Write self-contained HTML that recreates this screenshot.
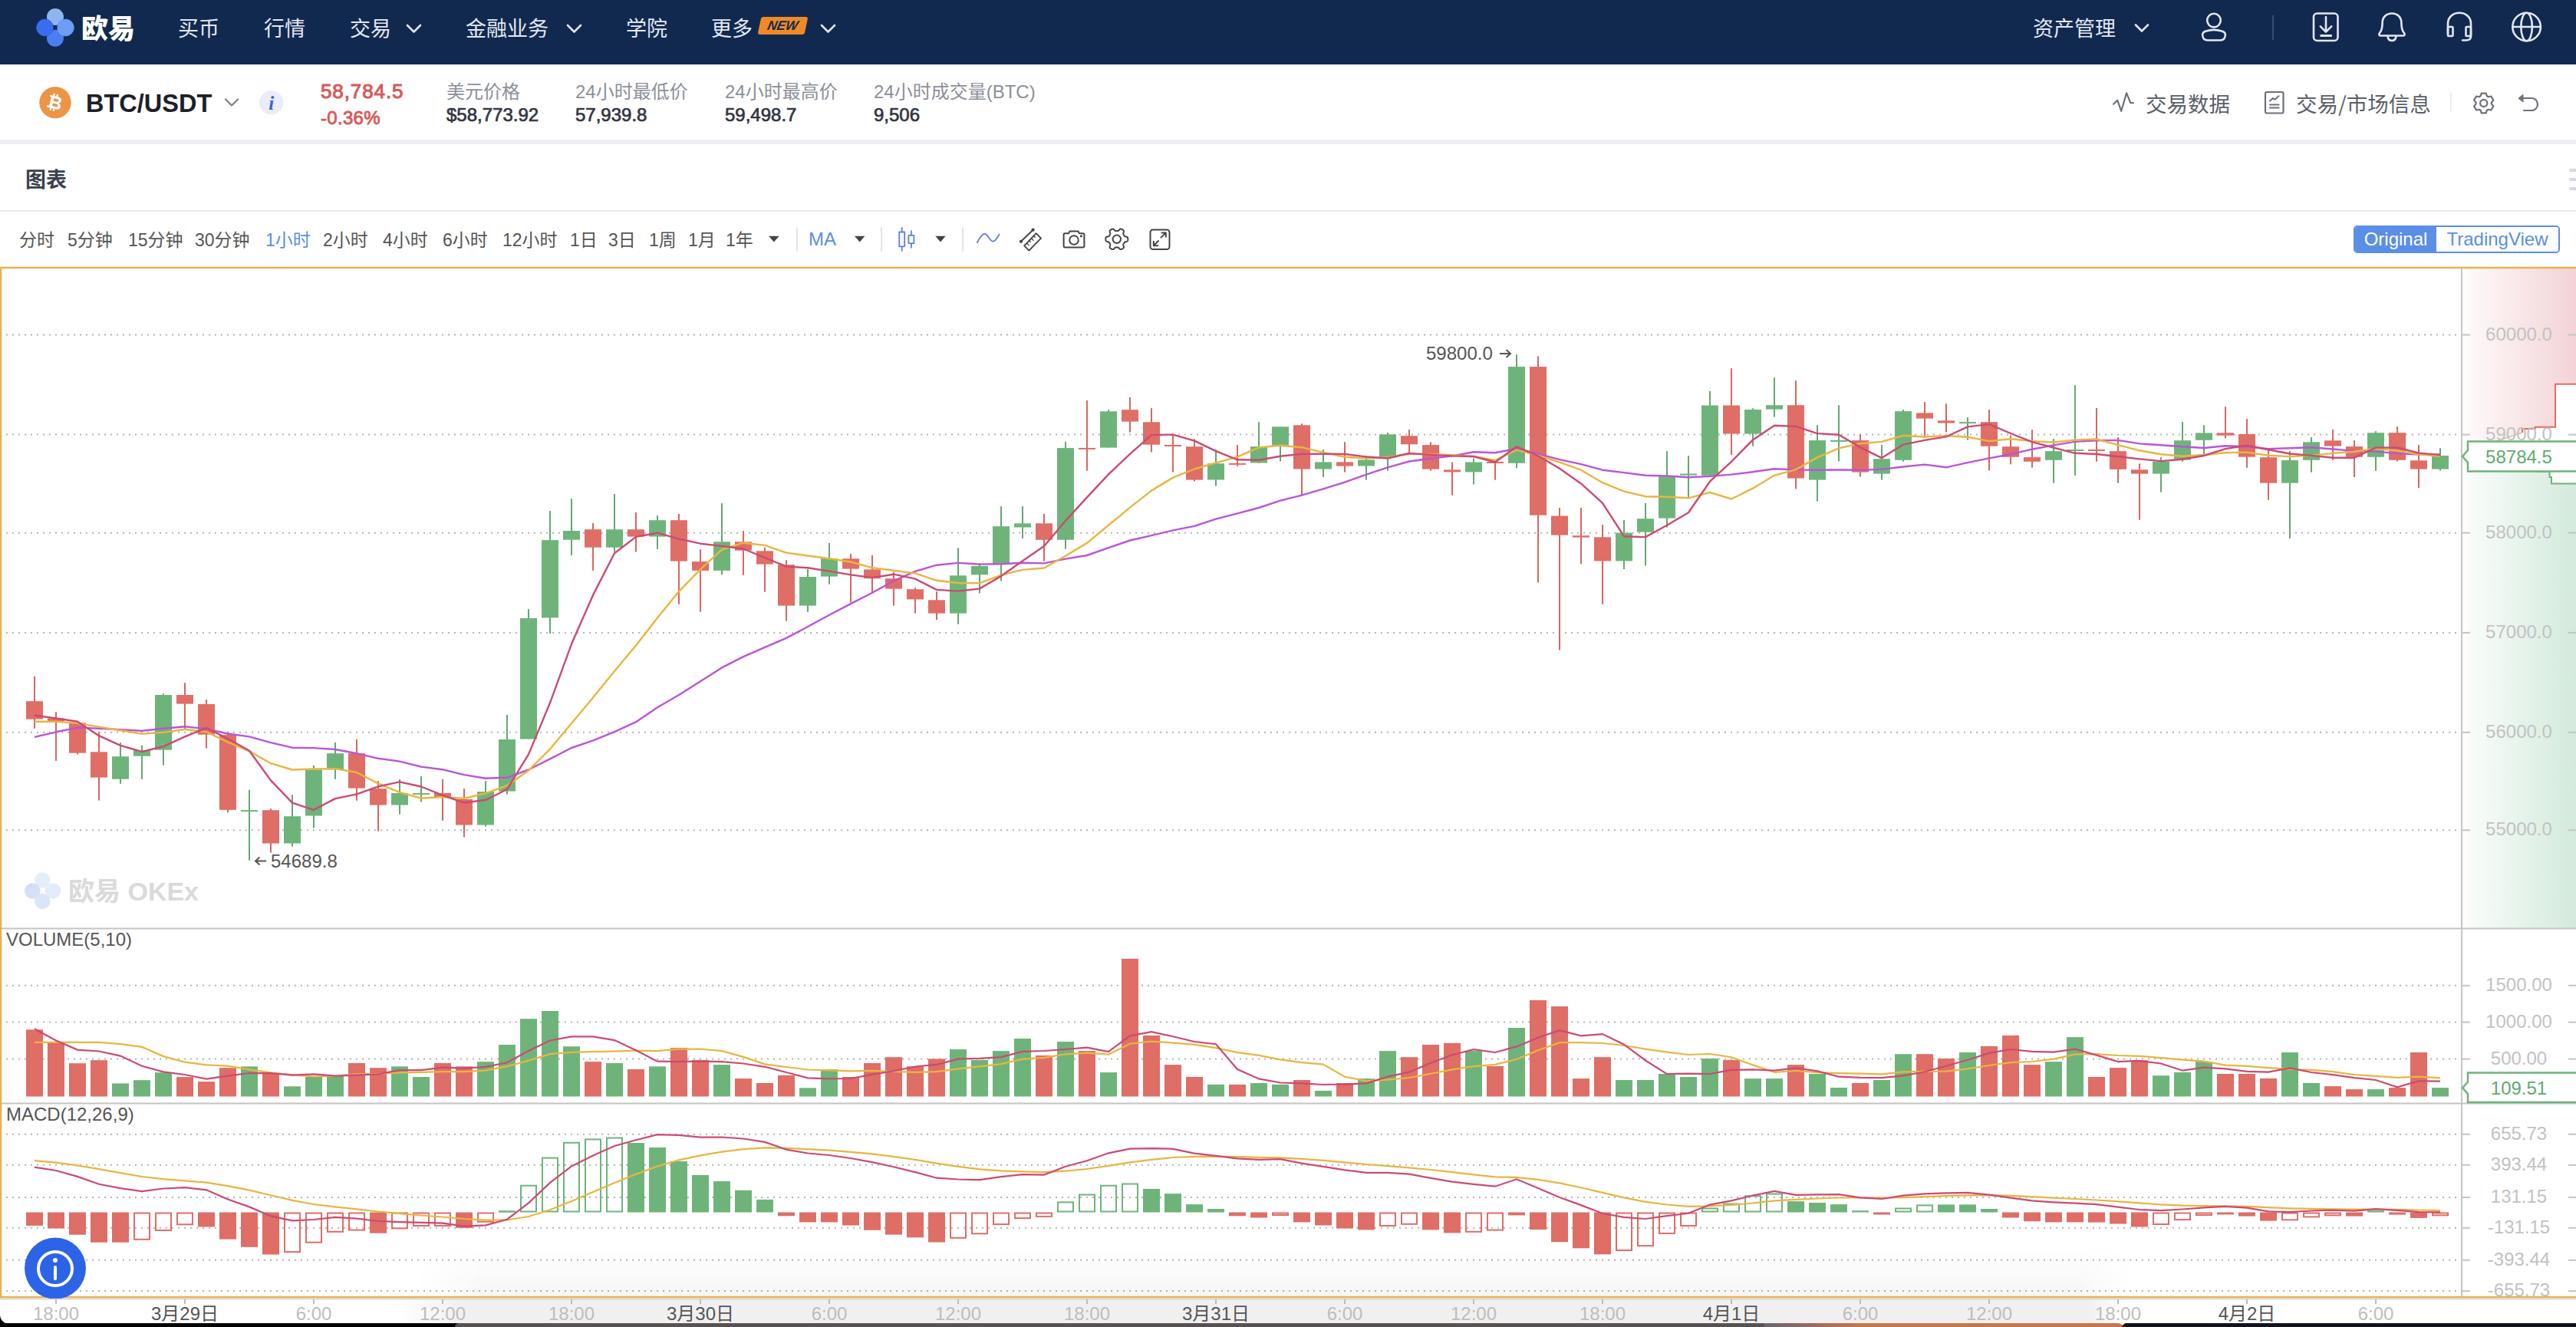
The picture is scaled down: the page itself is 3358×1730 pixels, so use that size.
<!DOCTYPE html>
<html lang="zh-CN"><head><meta charset="utf-8"><title>BTC/USDT</title>
<style>
*{margin:0;padding:0;box-sizing:border-box}
html,body{width:3358px;height:1730px;overflow:hidden;background:#fff}
body{position:relative;font-family:"Liberation Sans","Noto Sans CJK SC",sans-serif;color:#333}
.abs{position:absolute}
.chart{position:absolute;left:0;top:0}
.chart text{font-family:"Liberation Sans","Noto Sans CJK SC",sans-serif}
.chart .ax{font-size:24px;text-anchor:middle}
.chart .lbl{font-size:24px;fill:#555}
.chart .pl{font-size:24px;fill:#555}
.chart .tt{font-size:24px;fill:#bdbdbd;text-anchor:middle}
.chart .td{font-size:24px;fill:#555;text-anchor:middle}
.chart .wm{font-size:34px;font-weight:bold;fill:#dadada}
.nav{position:absolute;left:0;top:0;width:3358px;height:84px;background:#11294f}
.logo{font-family:"Noto Sans CJK SC",sans-serif;font-weight:900;font-size:35px;line-height:44px;color:#fff}
.nv{top:16px;font-family:"Noto Sans CJK SC",sans-serif;font-size:27px;line-height:40px;color:#e3e8f2}
.newb{left:990px;top:22px;width:61px;height:23px;background:#f08a24;color:#13294f;font:italic bold 17px/23px "Liberation Sans",sans-serif;text-align:center;transform:skewX(-12deg);border-radius:3px}
.ticker{position:absolute;left:0;top:84px;width:3358px;height:98px;background:linear-gradient(#f1f1f8,#fff 4px)}
.ticker .abs{}
.pair{left:112px;top:31px;font:bold 32.5px/40px "Liberation Sans",sans-serif;color:#1d2029}
.price{left:418px;top:17.5px;font:26px/34px "Liberation Sans",sans-serif;color:#d65a5a;letter-spacing:0.9px;-webkit-text-stroke:1px #d65a5a}
.chg{left:418px;top:53.5px;font:24px/32px "Liberation Sans",sans-serif;color:#d65a5a;letter-spacing:0.3px;-webkit-text-stroke:0.9px #d65a5a}
.tl{top:19.5px;font-family:"Liberation Sans","Noto Sans CJK SC",sans-serif;font-size:24px;line-height:32px;color:#8b8f99}
.tv{top:50px;font:24px/32px "Liberation Sans",sans-serif;color:#32353f;-webkit-text-stroke:0.7px #32353f}
.rt{top:30px;font-family:"Noto Sans CJK SC",sans-serif;font-size:27.5px;line-height:40px;color:#5b5f6a}
.band{position:absolute;left:0;top:182px;width:3358px;height:6px;background:#eeeff4}
.ctitle{left:33px;top:210.5px;font-family:"Noto Sans CJK SC",sans-serif;font-weight:bold;font-size:27px;line-height:44px;color:#3a3f4d}
.handle{left:3349px;top:220px;width:12px}
.handle i{display:block;height:4px;background:#d8d9e1;margin-bottom:8px;border-radius:2px}
.sep1{position:absolute;left:0;top:274px;width:3358px;height:2px;background:#ececf0}
.toolbar{position:absolute;left:0;top:0;width:3358px;height:347px}
.tb{top:294.5px;font-family:"Liberation Sans","Noto Sans CJK SC",sans-serif;font-size:23px;line-height:36px;color:#555}
.tb.on{color:#5b8ee6}
.tb.ma{font-size:24px;left:1055px;top:293.5px}
.seg{left:3068px;top:294px;height:36px;border:2px solid #5b8ee6;border-radius:5px;overflow:hidden;display:flex;font:24px/32px "Liberation Sans",sans-serif}
.seg span{display:block;height:32px}
.seg .s1{width:106px;background:#5b8ee6;color:#fff;text-align:center}
.seg .s2{width:159px;color:#5b8ee6;text-align:center;background:#fff}


</style></head>
<body>
<svg class="chart" width="3358" height="1730" viewBox="0 0 3358 1730">
<defs><linearGradient id="gr" x1="0" y1="0" x2="1" y2="0"><stop offset="0" stop-color="#fff"/><stop offset="0.08" stop-color="#fdf8f8"/><stop offset="1" stop-color="#f3d3d6"/></linearGradient><linearGradient id="gg" x1="0" y1="0" x2="1" y2="0"><stop offset="0" stop-color="#fff"/><stop offset="0.08" stop-color="#f8fcf9"/><stop offset="1" stop-color="#d3eadc"/></linearGradient><linearGradient id="gb" x1="0" y1="0" x2="1" y2="0"><stop offset="0" stop-color="#fff"/><stop offset="0.155" stop-color="#fff"/><stop offset="0.18" stop-color="#f0f0f0"/><stop offset="0.81" stop-color="#f0f0f0"/><stop offset="0.826" stop-color="#fff"/><stop offset="1" stop-color="#fff"/></linearGradient><linearGradient id="gd" x1="0" y1="0" x2="1" y2="0"><stop offset="0" stop-color="#6a6470"/><stop offset="1" stop-color="#c8754f"/></linearGradient><linearGradient id="shv" x1="0" y1="0" x2="0" y2="1"><stop offset="0" stop-color="#000" stop-opacity="0"/><stop offset="1" stop-color="#000" stop-opacity="0.035"/></linearGradient><linearGradient id="shh" x1="0" y1="0" x2="1" y2="0"><stop offset="0" stop-color="#fff" stop-opacity="0"/><stop offset="0.04" stop-color="#fff"/><stop offset="0.97" stop-color="#fff"/><stop offset="1" stop-color="#fff" stop-opacity="0"/></linearGradient><mask id="shm"><rect x="540" y="1620" width="2240" height="72" fill="url(#shh)"/></mask></defs>
<rect x="0" y="348" width="3358" height="1346" fill="#fff"/>
<rect x="3210" y="350" width="148" height="245" fill="url(#gr)"/>
<rect x="3210" y="595" width="148" height="615" fill="url(#gg)"/>
<polygon points="3358,500.8 3331,500.8 3331,556.8 3304.5,556.8 3304.5,559 3288,559 3288,564 3252,576 3216,589 3216,596 3260,605 3310,615 3323.5,615 3323.5,622 3326,622 3326,630.5 3358,630.5" fill="#fff"/>
<polyline points="3358,500.8 3331,500.8 3331,556.8 3304.5,556.8 3304.5,559 3288,559 3288,564" fill="none" stroke="#de6e66" stroke-width="2"/>
<polyline points="3288,564 3252,576 3216,589" fill="none" stroke="#eab3b3" stroke-width="1.5"/>
<polyline points="3216,596 3260,605 3305,614.5" fill="none" stroke="#b8dcc2" stroke-width="1.5"/>
<polyline points="3305,614.5 3323.5,615 3323.5,622 3326,622 3326,630.5 3358,630.5" fill="none" stroke="#6eb47a" stroke-width="2"/>
<line x1="8" y1="436.5" x2="3204" y2="436.5" stroke="#b4b4b4" stroke-width="2" stroke-dasharray="2 6"/>
<line x1="8" y1="566.6" x2="3204" y2="566.6" stroke="#b4b4b4" stroke-width="2" stroke-dasharray="2 6"/>
<line x1="8" y1="694.7" x2="3204" y2="694.7" stroke="#b4b4b4" stroke-width="2" stroke-dasharray="2 6"/>
<line x1="8" y1="824.9" x2="3204" y2="824.9" stroke="#b4b4b4" stroke-width="2" stroke-dasharray="2 6"/>
<line x1="8" y1="954.8" x2="3204" y2="954.8" stroke="#b4b4b4" stroke-width="2" stroke-dasharray="2 6"/>
<line x1="8" y1="1082.3" x2="3204" y2="1082.3" stroke="#b4b4b4" stroke-width="2" stroke-dasharray="2 6"/>
<line x1="8" y1="1284.8" x2="3204" y2="1284.8" stroke="#b4b4b4" stroke-width="2" stroke-dasharray="2 6"/>
<line x1="8" y1="1332.6" x2="3204" y2="1332.6" stroke="#b4b4b4" stroke-width="2" stroke-dasharray="2 6"/>
<line x1="8" y1="1380.6" x2="3204" y2="1380.6" stroke="#b4b4b4" stroke-width="2" stroke-dasharray="2 6"/>
<line x1="8" y1="1478.7" x2="3204" y2="1478.7" stroke="#b4b4b4" stroke-width="2" stroke-dasharray="2 6"/>
<line x1="8" y1="1518.8" x2="3204" y2="1518.8" stroke="#b4b4b4" stroke-width="2" stroke-dasharray="2 6"/>
<line x1="8" y1="1560.9" x2="3204" y2="1560.9" stroke="#b4b4b4" stroke-width="2" stroke-dasharray="2 6"/>
<line x1="8" y1="1600.8" x2="3204" y2="1600.8" stroke="#b4b4b4" stroke-width="2" stroke-dasharray="2 6"/>
<line x1="8" y1="1642.8" x2="3204" y2="1642.8" stroke="#b4b4b4" stroke-width="2" stroke-dasharray="2 6"/>
<line x1="8" y1="1683.1" x2="3204" y2="1683.1" stroke="#b4b4b4" stroke-width="2" stroke-dasharray="2 6"/>
<line x1="3209" y1="350" x2="3209" y2="1692" stroke="#c4c4c4" stroke-width="2"/>
<line x1="2" y1="1210.5" x2="3358" y2="1210.5" stroke="#c4c4c4" stroke-width="2"/>
<line x1="2" y1="1438.5" x2="3358" y2="1438.5" stroke="#c4c4c4" stroke-width="2"/>
<line x1="3209" y1="436.5" x2="3220" y2="436.5" stroke="#c4c4c4" stroke-width="2"/>
<line x1="3348" y1="436.5" x2="3358" y2="436.5" stroke="#c4c4c4" stroke-width="2"/>
<text x="3283.5" y="443.5" class="ax" fill="#c2c2c2">60000.0</text>
<line x1="3209" y1="566.6" x2="3220" y2="566.6" stroke="#c4c4c4" stroke-width="2"/>
<line x1="3348" y1="566.6" x2="3358" y2="566.6" stroke="#c4c4c4" stroke-width="2"/>
<text x="3283.5" y="573.6" class="ax" fill="#c2c2c2">59000.0</text>
<line x1="3209" y1="694.7" x2="3220" y2="694.7" stroke="#c4c4c4" stroke-width="2"/>
<line x1="3348" y1="694.7" x2="3358" y2="694.7" stroke="#c4c4c4" stroke-width="2"/>
<text x="3283.5" y="701.7" class="ax" fill="#c2c2c2">58000.0</text>
<line x1="3209" y1="824.9" x2="3220" y2="824.9" stroke="#c4c4c4" stroke-width="2"/>
<line x1="3348" y1="824.9" x2="3358" y2="824.9" stroke="#c4c4c4" stroke-width="2"/>
<text x="3283.5" y="831.9" class="ax" fill="#c2c2c2">57000.0</text>
<line x1="3209" y1="954.8" x2="3220" y2="954.8" stroke="#c4c4c4" stroke-width="2"/>
<line x1="3348" y1="954.8" x2="3358" y2="954.8" stroke="#c4c4c4" stroke-width="2"/>
<text x="3283.5" y="961.8" class="ax" fill="#c2c2c2">56000.0</text>
<line x1="3209" y1="1082.3" x2="3220" y2="1082.3" stroke="#c4c4c4" stroke-width="2"/>
<line x1="3348" y1="1082.3" x2="3358" y2="1082.3" stroke="#c4c4c4" stroke-width="2"/>
<text x="3283.5" y="1089.3" class="ax" fill="#c2c2c2">55000.0</text>
<line x1="3209" y1="1284.8" x2="3220" y2="1284.8" stroke="#c4c4c4" stroke-width="2"/>
<line x1="3348" y1="1284.8" x2="3358" y2="1284.8" stroke="#c4c4c4" stroke-width="2"/>
<text x="3283.5" y="1291.8" class="ax" fill="#c2c2c2">1500.00</text>
<line x1="3209" y1="1332.6" x2="3220" y2="1332.6" stroke="#c4c4c4" stroke-width="2"/>
<line x1="3348" y1="1332.6" x2="3358" y2="1332.6" stroke="#c4c4c4" stroke-width="2"/>
<text x="3283.5" y="1339.6" class="ax" fill="#c2c2c2">1000.00</text>
<line x1="3209" y1="1380.6" x2="3220" y2="1380.6" stroke="#c4c4c4" stroke-width="2"/>
<line x1="3348" y1="1380.6" x2="3358" y2="1380.6" stroke="#c4c4c4" stroke-width="2"/>
<text x="3283.5" y="1387.6" class="ax" fill="#c2c2c2">500.00</text>
<line x1="3209" y1="1478.7" x2="3220" y2="1478.7" stroke="#c4c4c4" stroke-width="2"/>
<line x1="3348" y1="1478.7" x2="3358" y2="1478.7" stroke="#c4c4c4" stroke-width="2"/>
<text x="3283.5" y="1485.7" class="ax" fill="#c2c2c2">655.73</text>
<line x1="3209" y1="1518.8" x2="3220" y2="1518.8" stroke="#c4c4c4" stroke-width="2"/>
<line x1="3348" y1="1518.8" x2="3358" y2="1518.8" stroke="#c4c4c4" stroke-width="2"/>
<text x="3283.5" y="1525.8" class="ax" fill="#c2c2c2">393.44</text>
<line x1="3209" y1="1560.9" x2="3220" y2="1560.9" stroke="#c4c4c4" stroke-width="2"/>
<line x1="3348" y1="1560.9" x2="3358" y2="1560.9" stroke="#c4c4c4" stroke-width="2"/>
<text x="3283.5" y="1567.9" class="ax" fill="#c2c2c2">131.15</text>
<line x1="3209" y1="1600.8" x2="3220" y2="1600.8" stroke="#c4c4c4" stroke-width="2"/>
<line x1="3348" y1="1600.8" x2="3358" y2="1600.8" stroke="#c4c4c4" stroke-width="2"/>
<text x="3283.5" y="1607.8" class="ax" fill="#c2c2c2">-131.15</text>
<line x1="3209" y1="1642.8" x2="3220" y2="1642.8" stroke="#c4c4c4" stroke-width="2"/>
<line x1="3348" y1="1642.8" x2="3358" y2="1642.8" stroke="#c4c4c4" stroke-width="2"/>
<text x="3283.5" y="1649.8" class="ax" fill="#c2c2c2">-393.44</text>
<line x1="3209" y1="1683.1" x2="3220" y2="1683.1" stroke="#c4c4c4" stroke-width="2"/>
<line x1="3348" y1="1683.1" x2="3358" y2="1683.1" stroke="#c4c4c4" stroke-width="2"/>
<text x="3283.5" y="1690.1" class="ax" fill="#c2c2c2">-655.73</text>
<g opacity="1"><circle cx="55.3" cy="1147.5" r="10.3" fill="#e4eefb"/><circle cx="42.3" cy="1161.5" r="10.3" fill="#d5dff8"/><circle cx="69" cy="1161.5" r="10.3" fill="#e3ecfa"/><circle cx="55.3" cy="1175" r="10.3" fill="#dbe5fa"/></g>
<text x="89" y="1174" class="wm">欧易 OKEx</text>
<rect x="44" y="881.7" width="2" height="68.0" fill="#d9665f"/>
<rect x="34" y="914.2" width="22" height="23.4" fill="#de6e66"/>
<rect x="72" y="928.1" width="2" height="63.8" fill="#d9665f"/>
<rect x="62" y="936.4" width="22" height="3.8" fill="#de6e66"/>
<rect x="100" y="942.0" width="2" height="41.4" fill="#d9665f"/>
<rect x="90" y="942.3" width="22" height="39.4" fill="#de6e66"/>
<rect x="128" y="954.3" width="2" height="89.2" fill="#d9665f"/>
<rect x="118" y="980.3" width="22" height="33.3" fill="#de6e66"/>
<rect x="156" y="968.2" width="2" height="53.6" fill="#62a872"/>
<rect x="146" y="986.2" width="22" height="29.5" fill="#6eb47a"/>
<rect x="184" y="971.8" width="2" height="43.9" fill="#62a872"/>
<rect x="174" y="978.1" width="22" height="7.6" fill="#6eb47a"/>
<rect x="212" y="904.3" width="2" height="93.3" fill="#62a872"/>
<rect x="202" y="906.0" width="22" height="71.7" fill="#6eb47a"/>
<rect x="240" y="890.2" width="2" height="60.5" fill="#d9665f"/>
<rect x="230" y="906.0" width="22" height="11.6" fill="#de6e66"/>
<rect x="268" y="912.1" width="2" height="63.5" fill="#d9665f"/>
<rect x="258" y="918.0" width="22" height="39.7" fill="#de6e66"/>
<rect x="296" y="954.5" width="2" height="104.9" fill="#d9665f"/>
<rect x="286" y="958.1" width="22" height="97.7" fill="#de6e66"/>
<rect x="324" y="1029.8" width="2" height="91.8" fill="#62a872"/>
<rect x="314" y="1056.1" width="22" height="2.0" fill="#6eb47a"/>
<rect x="352" y="1054.1" width="2" height="57.4" fill="#d9665f"/>
<rect x="342" y="1056.2" width="22" height="43.3" fill="#de6e66"/>
<rect x="380" y="1036.2" width="2" height="67.5" fill="#62a872"/>
<rect x="370" y="1064.2" width="22" height="35.3" fill="#6eb47a"/>
<rect x="408" y="997.8" width="2" height="81.5" fill="#62a872"/>
<rect x="398" y="1003.5" width="22" height="60.0" fill="#6eb47a"/>
<rect x="436" y="968.0" width="2" height="47.7" fill="#62a872"/>
<rect x="426" y="982.2" width="22" height="21.3" fill="#6eb47a"/>
<rect x="464" y="964.0" width="2" height="79.7" fill="#d9665f"/>
<rect x="454" y="982.2" width="22" height="45.4" fill="#de6e66"/>
<rect x="492" y="1018.1" width="2" height="65.5" fill="#d9665f"/>
<rect x="482" y="1028.2" width="22" height="21.3" fill="#de6e66"/>
<rect x="520" y="1016.0" width="2" height="45.6" fill="#62a872"/>
<rect x="510" y="1033.9" width="22" height="15.6" fill="#6eb47a"/>
<rect x="548" y="1012.2" width="2" height="33.3" fill="#62a872"/>
<rect x="538" y="1033.9" width="22" height="2.0" fill="#6eb47a"/>
<rect x="576" y="1016.0" width="2" height="53.7" fill="#d9665f"/>
<rect x="566" y="1033.9" width="22" height="5.5" fill="#de6e66"/>
<rect x="604" y="1028.2" width="2" height="63.2" fill="#d9665f"/>
<rect x="594" y="1042.0" width="22" height="33.5" fill="#de6e66"/>
<rect x="632" y="1018.1" width="2" height="59.4" fill="#62a872"/>
<rect x="622" y="1032.1" width="22" height="43.4" fill="#6eb47a"/>
<rect x="660" y="932.0" width="2" height="103.6" fill="#62a872"/>
<rect x="650" y="964.0" width="22" height="67.6" fill="#6eb47a"/>
<rect x="688" y="794.2" width="2" height="169.3" fill="#62a872"/>
<rect x="678" y="805.9" width="22" height="157.6" fill="#6eb47a"/>
<rect x="716" y="666.1" width="2" height="159.7" fill="#62a872"/>
<rect x="706" y="704.1" width="22" height="101.3" fill="#6eb47a"/>
<rect x="744" y="650.2" width="2" height="73.8" fill="#62a872"/>
<rect x="734" y="692.0" width="22" height="11.7" fill="#6eb47a"/>
<rect x="772" y="682.0" width="2" height="61.9" fill="#d9665f"/>
<rect x="762" y="690.2" width="22" height="23.5" fill="#de6e66"/>
<rect x="800" y="644.1" width="2" height="75.4" fill="#62a872"/>
<rect x="790" y="690.2" width="22" height="23.5" fill="#6eb47a"/>
<rect x="828" y="667.9" width="2" height="51.6" fill="#d9665f"/>
<rect x="818" y="690.2" width="22" height="9.4" fill="#de6e66"/>
<rect x="856" y="672.1" width="2" height="43.8" fill="#62a872"/>
<rect x="846" y="678.2" width="22" height="21.4" fill="#6eb47a"/>
<rect x="884" y="670.1" width="2" height="117.6" fill="#d9665f"/>
<rect x="874" y="678.2" width="22" height="53.4" fill="#de6e66"/>
<rect x="912" y="716.2" width="2" height="81.4" fill="#d9665f"/>
<rect x="902" y="732.1" width="22" height="11.8" fill="#de6e66"/>
<rect x="940" y="656.2" width="2" height="93.1" fill="#62a872"/>
<rect x="930" y="706.3" width="22" height="37.6" fill="#6eb47a"/>
<rect x="968" y="692.0" width="2" height="57.8" fill="#d9665f"/>
<rect x="958" y="706.3" width="22" height="11.4" fill="#de6e66"/>
<rect x="996" y="713.8" width="2" height="57.9" fill="#d9665f"/>
<rect x="986" y="718.3" width="22" height="17.3" fill="#de6e66"/>
<rect x="1024" y="730.2" width="2" height="79.4" fill="#d9665f"/>
<rect x="1014" y="736.2" width="22" height="53.4" fill="#de6e66"/>
<rect x="1052" y="742.0" width="2" height="55.7" fill="#62a872"/>
<rect x="1042" y="752.0" width="22" height="37.6" fill="#6eb47a"/>
<rect x="1080" y="708.0" width="2" height="53.8" fill="#62a872"/>
<rect x="1070" y="728.3" width="22" height="23.3" fill="#6eb47a"/>
<rect x="1108" y="722.1" width="2" height="63.4" fill="#d9665f"/>
<rect x="1098" y="728.3" width="22" height="13.3" fill="#de6e66"/>
<rect x="1136" y="724.0" width="2" height="48.1" fill="#d9665f"/>
<rect x="1126" y="742.4" width="22" height="11.8" fill="#de6e66"/>
<rect x="1164" y="745.6" width="2" height="44.0" fill="#d9665f"/>
<rect x="1154" y="754.2" width="22" height="13.4" fill="#de6e66"/>
<rect x="1192" y="766.1" width="2" height="33.5" fill="#d9665f"/>
<rect x="1182" y="768.2" width="22" height="13.2" fill="#de6e66"/>
<rect x="1220" y="771.2" width="2" height="36.8" fill="#d9665f"/>
<rect x="1210" y="782.3" width="22" height="17.3" fill="#de6e66"/>
<rect x="1248" y="714.4" width="2" height="99.3" fill="#62a872"/>
<rect x="1238" y="750.3" width="22" height="49.3" fill="#6eb47a"/>
<rect x="1276" y="734.2" width="2" height="39.2" fill="#62a872"/>
<rect x="1266" y="737.9" width="22" height="11.4" fill="#6eb47a"/>
<rect x="1304" y="660.1" width="2" height="97.4" fill="#62a872"/>
<rect x="1294" y="686.2" width="22" height="49.4" fill="#6eb47a"/>
<rect x="1332" y="660.1" width="2" height="41.8" fill="#62a872"/>
<rect x="1322" y="682.3" width="22" height="5.2" fill="#6eb47a"/>
<rect x="1360" y="669.9" width="2" height="61.7" fill="#d9665f"/>
<rect x="1350" y="682.3" width="22" height="21.5" fill="#de6e66"/>
<rect x="1388" y="575.8" width="2" height="139.8" fill="#62a872"/>
<rect x="1378" y="584.1" width="22" height="119.7" fill="#6eb47a"/>
<rect x="1416" y="522.0" width="2" height="91.7" fill="#d9665f"/>
<rect x="1406" y="583.9" width="22" height="2.0" fill="#de6e66"/>
<rect x="1444" y="534.1" width="2" height="49.5" fill="#62a872"/>
<rect x="1434" y="536.3" width="22" height="47.3" fill="#6eb47a"/>
<rect x="1472" y="517.9" width="2" height="45.6" fill="#d9665f"/>
<rect x="1462" y="534.2" width="22" height="15.4" fill="#de6e66"/>
<rect x="1500" y="532.1" width="2" height="57.4" fill="#d9665f"/>
<rect x="1490" y="550.3" width="22" height="29.4" fill="#de6e66"/>
<rect x="1528" y="566.5" width="2" height="49.1" fill="#d9665f"/>
<rect x="1518" y="580.0" width="22" height="2.0" fill="#de6e66"/>
<rect x="1556" y="572.3" width="2" height="55.2" fill="#d9665f"/>
<rect x="1546" y="582.2" width="22" height="43.4" fill="#de6e66"/>
<rect x="1584" y="586.1" width="2" height="47.5" fill="#62a872"/>
<rect x="1574" y="604.2" width="22" height="21.3" fill="#6eb47a"/>
<rect x="1612" y="580.0" width="2" height="27.8" fill="#d9665f"/>
<rect x="1602" y="603.9" width="22" height="2.0" fill="#de6e66"/>
<rect x="1640" y="550.2" width="2" height="53.6" fill="#62a872"/>
<rect x="1630" y="582.1" width="22" height="21.4" fill="#6eb47a"/>
<rect x="1668" y="556.3" width="2" height="45.2" fill="#62a872"/>
<rect x="1658" y="556.3" width="22" height="24.4" fill="#6eb47a"/>
<rect x="1696" y="552.2" width="2" height="93.6" fill="#d9665f"/>
<rect x="1686" y="554.3" width="22" height="57.2" fill="#de6e66"/>
<rect x="1724" y="586.1" width="2" height="35.7" fill="#62a872"/>
<rect x="1714" y="602.4" width="22" height="9.1" fill="#6eb47a"/>
<rect x="1752" y="576.2" width="2" height="39.4" fill="#d9665f"/>
<rect x="1742" y="602.4" width="22" height="5.2" fill="#de6e66"/>
<rect x="1780" y="594.2" width="2" height="31.5" fill="#62a872"/>
<rect x="1770" y="599.5" width="22" height="8.0" fill="#6eb47a"/>
<rect x="1808" y="564.0" width="2" height="49.8" fill="#62a872"/>
<rect x="1798" y="566.3" width="22" height="29.6" fill="#6eb47a"/>
<rect x="1836" y="560.2" width="2" height="30.7" fill="#d9665f"/>
<rect x="1826" y="568.2" width="22" height="11.1" fill="#de6e66"/>
<rect x="1864" y="576.3" width="2" height="37.5" fill="#d9665f"/>
<rect x="1854" y="580.1" width="22" height="31.5" fill="#de6e66"/>
<rect x="1892" y="602.5" width="2" height="43.1" fill="#d9665f"/>
<rect x="1882" y="612.4" width="22" height="3.0" fill="#de6e66"/>
<rect x="1920" y="597.5" width="2" height="34.0" fill="#62a872"/>
<rect x="1910" y="602.5" width="22" height="12.9" fill="#6eb47a"/>
<rect x="1948" y="602.2" width="2" height="23.5" fill="#d9665f"/>
<rect x="1938" y="602.0" width="22" height="2.0" fill="#de6e66"/>
<rect x="1976" y="462.1" width="2" height="147.9" fill="#62a872"/>
<rect x="1966" y="478.1" width="22" height="125.7" fill="#6eb47a"/>
<rect x="2004" y="464.5" width="2" height="295.0" fill="#d9665f"/>
<rect x="1994" y="478.1" width="22" height="193.6" fill="#de6e66"/>
<rect x="2032" y="662.0" width="2" height="185.5" fill="#d9665f"/>
<rect x="2022" y="672.6" width="22" height="25.0" fill="#de6e66"/>
<rect x="2060" y="662.0" width="2" height="73.3" fill="#d9665f"/>
<rect x="2050" y="698.2" width="22" height="2.4" fill="#de6e66"/>
<rect x="2088" y="684.0" width="2" height="103.8" fill="#d9665f"/>
<rect x="2078" y="700.3" width="22" height="31.1" fill="#de6e66"/>
<rect x="2116" y="678.0" width="2" height="64.0" fill="#62a872"/>
<rect x="2106" y="694.6" width="22" height="36.8" fill="#6eb47a"/>
<rect x="2144" y="656.0" width="2" height="81.4" fill="#62a872"/>
<rect x="2134" y="676.2" width="22" height="17.5" fill="#6eb47a"/>
<rect x="2172" y="588.2" width="2" height="99.5" fill="#62a872"/>
<rect x="2162" y="621.3" width="22" height="54.3" fill="#6eb47a"/>
<rect x="2200" y="594.2" width="2" height="53.7" fill="#62a872"/>
<rect x="2190" y="617.5" width="22" height="2.0" fill="#6eb47a"/>
<rect x="2228" y="509.8" width="2" height="110.0" fill="#62a872"/>
<rect x="2218" y="528.5" width="22" height="91.3" fill="#6eb47a"/>
<rect x="2256" y="480.2" width="2" height="113.1" fill="#d9665f"/>
<rect x="2246" y="528.5" width="22" height="37.0" fill="#de6e66"/>
<rect x="2284" y="532.3" width="2" height="49.3" fill="#62a872"/>
<rect x="2274" y="534.0" width="22" height="31.6" fill="#6eb47a"/>
<rect x="2312" y="492.2" width="2" height="51.4" fill="#62a872"/>
<rect x="2302" y="528.2" width="22" height="5.4" fill="#6eb47a"/>
<rect x="2340" y="496.1" width="2" height="141.3" fill="#d9665f"/>
<rect x="2330" y="528.2" width="22" height="95.3" fill="#de6e66"/>
<rect x="2368" y="554.2" width="2" height="99.4" fill="#62a872"/>
<rect x="2358" y="574.1" width="22" height="51.5" fill="#6eb47a"/>
<rect x="2396" y="528.2" width="2" height="73.1" fill="#62a872"/>
<rect x="2386" y="573.9" width="22" height="2.0" fill="#6eb47a"/>
<rect x="2424" y="566.2" width="2" height="55.4" fill="#d9665f"/>
<rect x="2414" y="574.1" width="22" height="41.5" fill="#de6e66"/>
<rect x="2452" y="580.0" width="2" height="45.6" fill="#62a872"/>
<rect x="2442" y="598.2" width="22" height="19.4" fill="#6eb47a"/>
<rect x="2480" y="534.1" width="2" height="67.6" fill="#62a872"/>
<rect x="2470" y="536.1" width="22" height="63.7" fill="#6eb47a"/>
<rect x="2508" y="524.1" width="2" height="46.4" fill="#d9665f"/>
<rect x="2498" y="538.4" width="22" height="7.2" fill="#de6e66"/>
<rect x="2536" y="526.2" width="2" height="37.2" fill="#d9665f"/>
<rect x="2526" y="548.3" width="22" height="3.2" fill="#de6e66"/>
<rect x="2564" y="544.1" width="2" height="29.6" fill="#62a872"/>
<rect x="2554" y="550.1" width="22" height="2.0" fill="#6eb47a"/>
<rect x="2592" y="534.0" width="2" height="79.4" fill="#d9665f"/>
<rect x="2582" y="550.2" width="22" height="31.5" fill="#de6e66"/>
<rect x="2620" y="567.4" width="2" height="38.0" fill="#d9665f"/>
<rect x="2610" y="582.2" width="22" height="13.6" fill="#de6e66"/>
<rect x="2648" y="560.2" width="2" height="49.4" fill="#d9665f"/>
<rect x="2638" y="596.1" width="22" height="5.7" fill="#de6e66"/>
<rect x="2676" y="572.0" width="2" height="57.7" fill="#62a872"/>
<rect x="2666" y="588.2" width="22" height="11.6" fill="#6eb47a"/>
<rect x="2704" y="502.2" width="2" height="117.7" fill="#62a872"/>
<rect x="2694" y="586.0" width="22" height="2.0" fill="#6eb47a"/>
<rect x="2732" y="532.0" width="2" height="69.8" fill="#d9665f"/>
<rect x="2722" y="586.0" width="22" height="2.0" fill="#de6e66"/>
<rect x="2760" y="570.1" width="2" height="59.6" fill="#d9665f"/>
<rect x="2750" y="588.2" width="22" height="23.7" fill="#de6e66"/>
<rect x="2788" y="604.4" width="2" height="73.4" fill="#d9665f"/>
<rect x="2778" y="612.3" width="22" height="5.3" fill="#de6e66"/>
<rect x="2816" y="596.1" width="2" height="45.6" fill="#62a872"/>
<rect x="2806" y="601.8" width="22" height="15.8" fill="#6eb47a"/>
<rect x="2844" y="550.1" width="2" height="51.7" fill="#62a872"/>
<rect x="2834" y="574.2" width="22" height="25.3" fill="#6eb47a"/>
<rect x="2872" y="554.2" width="2" height="38.1" fill="#62a872"/>
<rect x="2862" y="564.4" width="22" height="9.4" fill="#6eb47a"/>
<rect x="2900" y="530.2" width="2" height="41.4" fill="#d9665f"/>
<rect x="2890" y="564.3" width="22" height="3.4" fill="#de6e66"/>
<rect x="2928" y="546.1" width="2" height="63.7" fill="#d9665f"/>
<rect x="2918" y="566.0" width="22" height="29.7" fill="#de6e66"/>
<rect x="2956" y="587.0" width="2" height="64.7" fill="#d9665f"/>
<rect x="2946" y="596.2" width="22" height="33.5" fill="#de6e66"/>
<rect x="2984" y="587.9" width="2" height="114.1" fill="#62a872"/>
<rect x="2974" y="600.0" width="22" height="29.7" fill="#6eb47a"/>
<rect x="3012" y="570.1" width="2" height="45.6" fill="#62a872"/>
<rect x="3002" y="576.3" width="22" height="23.5" fill="#6eb47a"/>
<rect x="3040" y="560.0" width="2" height="39.8" fill="#d9665f"/>
<rect x="3030" y="574.3" width="22" height="7.3" fill="#de6e66"/>
<rect x="3068" y="574.1" width="2" height="47.8" fill="#d9665f"/>
<rect x="3058" y="582.1" width="22" height="13.7" fill="#de6e66"/>
<rect x="3096" y="562.2" width="2" height="51.7" fill="#62a872"/>
<rect x="3086" y="564.2" width="22" height="31.6" fill="#6eb47a"/>
<rect x="3124" y="556.0" width="2" height="45.5" fill="#d9665f"/>
<rect x="3114" y="564.2" width="22" height="35.6" fill="#de6e66"/>
<rect x="3152" y="580.1" width="2" height="55.9" fill="#d9665f"/>
<rect x="3142" y="600.3" width="22" height="11.3" fill="#de6e66"/>
<rect x="3180" y="584.2" width="2" height="29.4" fill="#62a872"/>
<rect x="3170" y="594.0" width="22" height="17.6" fill="#6eb47a"/>
<polyline points="45.0,960.8 73.0,954.3 101.0,948.6 129.0,949.7 157.0,951.1 185.0,952.8 213.0,949.7 241.0,947.2 269.0,950.3 297.0,956.5 325.0,960.4 353.0,968.1 381.0,974.7 409.0,975.1 437.0,977.0 465.0,982.2 493.0,988.8 521.0,992.6 549.0,999.6 577.0,1003.2 605.0,1010.1 633.0,1014.7 661.0,1013.8 689.0,1003.5 717.0,989.4 745.0,975.0 773.0,965.4 801.0,954.1 829.0,941.2 857.0,922.3 885.0,906.0 913.0,888.3 941.0,870.4 969.0,856.1 997.0,843.8 1025.0,831.9 1053.0,817.0 1081.0,801.7 1109.0,787.1 1137.0,772.8 1165.0,757.4 1193.0,744.9 1221.0,736.7 1249.0,733.9 1277.0,735.6 1305.0,735.3 1333.0,733.7 1361.0,734.4 1389.0,728.6 1417.0,724.0 1445.0,714.2 1473.0,704.5 1501.0,698.2 1529.0,691.4 1557.0,685.9 1585.0,676.6 1613.0,669.3 1641.0,662.0 1669.0,652.7 1697.0,645.6 1725.0,637.3 1753.0,628.6 1781.0,618.6 1809.0,609.4 1837.0,601.5 1865.0,597.8 1893.0,594.4 1921.0,589.3 1949.0,590.3 1977.0,585.0 2005.0,591.7 2033.0,599.1 2061.0,605.2 2089.0,612.7 2117.0,616.1 2145.0,619.7 2173.0,620.5 2201.0,622.3 2229.0,620.9 2257.0,618.6 2285.0,615.2 2313.0,611.2 2341.0,612.4 2369.0,612.8 2397.0,612.5 2425.0,612.7 2453.0,611.9 2481.0,608.5 2509.0,605.6 2537.0,609.3 2565.0,603.2 2593.0,597.4 2621.0,592.2 2649.0,585.7 2677.0,580.4 2705.0,575.9 2733.0,574.2 2761.0,573.9 2789.0,578.4 2817.0,580.2 2845.0,582.2 2873.0,584.0 2901.0,581.2 2929.0,582.3 2957.0,585.1 2985.0,584.3 3013.0,583.2 3041.0,585.5 3069.0,588.0 3097.0,588.6 3125.0,591.1 3153.0,592.6 3181.0,592.5" fill="none" stroke="#b955d8" stroke-width="2.4" stroke-linejoin="round"/>
<polyline points="45.0,940.8 73.0,940.8 101.0,942.9 129.0,947.6 157.0,952.2 185.0,956.6 213.0,954.9 241.0,950.7 269.0,954.2 297.0,967.5 325.0,979.3 353.0,995.2 381.0,1003.5 409.0,1002.5 437.0,1002.1 465.0,1007.0 493.0,1021.4 521.0,1033.0 549.0,1040.7 577.0,1039.0 605.0,1041.0 633.0,1034.2 661.0,1024.2 689.0,1004.4 717.0,976.6 745.0,943.1 773.0,909.5 801.0,875.1 829.0,841.6 857.0,805.5 885.0,771.1 913.0,742.3 941.0,716.5 969.0,707.7 997.0,710.9 1025.0,720.6 1053.0,724.5 1081.0,728.3 1109.0,732.5 1137.0,740.1 1165.0,743.7 1193.0,747.4 1221.0,756.8 1249.0,760.0 1277.0,760.2 1305.0,749.9 1333.0,742.9 1361.0,740.5 1389.0,724.7 1417.0,707.9 1445.0,684.8 1473.0,661.6 1501.0,639.6 1529.0,622.7 1557.0,611.5 1585.0,603.3 1613.0,595.6 1641.0,583.4 1669.0,580.7 1697.0,583.2 1725.0,589.9 1753.0,595.7 1781.0,597.6 1809.0,596.1 1837.0,591.5 1865.0,592.2 1893.0,593.2 1921.0,595.2 1949.0,600.0 1977.0,586.6 2005.0,593.6 2033.0,602.6 2061.0,612.7 2089.0,629.2 2117.0,640.7 2145.0,647.2 2173.0,647.8 2201.0,649.3 2229.0,641.8 2257.0,650.5 2285.0,636.7 2313.0,619.8 2341.0,612.1 2369.0,596.4 2397.0,584.3 2425.0,578.2 2453.0,575.9 2481.0,567.8 2509.0,569.5 2537.0,568.1 2565.0,569.7 2593.0,575.1 2621.0,572.3 2649.0,575.1 2677.0,576.5 2705.0,573.6 2733.0,572.5 2761.0,580.1 2789.0,587.3 2817.0,592.3 2845.0,594.7 2873.0,593.0 2901.0,590.2 2929.0,589.6 2957.0,593.7 2985.0,595.1 3013.0,593.9 3041.0,590.9 3069.0,588.7 3097.0,585.0 3125.0,587.5 3153.0,592.2 3181.0,594.9" fill="none" stroke="#e9b540" stroke-width="2.4" stroke-linejoin="round"/>
<polyline points="45.0,932.8 73.0,936.4 101.0,940.8 129.0,959.2 157.0,971.9 185.0,980.0 213.0,973.1 241.0,960.3 269.0,949.1 297.0,963.0 325.0,978.7 353.0,1017.4 381.0,1046.7 409.0,1055.8 437.0,1041.1 465.0,1035.4 493.0,1025.4 521.0,1019.3 549.0,1025.5 577.0,1036.9 605.0,1046.5 633.0,1043.0 661.0,1029.0 689.0,983.4 717.0,916.3 745.0,839.6 773.0,775.9 801.0,721.2 829.0,699.9 857.0,694.7 885.0,702.7 913.0,708.7 941.0,711.9 969.0,715.5 997.0,727.0 1025.0,738.6 1053.0,740.2 1081.0,744.6 1109.0,749.4 1137.0,753.1 1165.0,748.7 1193.0,754.6 1221.0,768.9 1249.0,770.6 1277.0,767.4 1305.0,751.1 1333.0,731.3 1361.0,712.1 1389.0,678.9 1417.0,648.4 1445.0,618.4 1473.0,591.9 1501.0,567.1 1529.0,566.6 1557.0,574.6 1585.0,588.1 1613.0,599.3 1641.0,599.8 1669.0,594.8 1697.0,591.9 1725.0,591.6 1753.0,592.0 1781.0,595.5 1809.0,597.5 1837.0,591.0 1865.0,592.9 1893.0,594.4 1921.0,595.0 1949.0,602.5 1977.0,582.3 2005.0,594.3 2033.0,610.7 2061.0,630.4 2089.0,655.9 2117.0,699.2 2145.0,700.1 2173.0,684.8 2201.0,668.2 2229.0,627.7 2257.0,601.8 2285.0,573.4 2313.0,554.8 2341.0,555.9 2369.0,565.1 2397.0,566.8 2425.0,583.1 2453.0,597.1 2481.0,579.6 2509.0,573.9 2537.0,569.4 2565.0,556.4 2593.0,553.1 2621.0,565.0 2649.0,576.2 2677.0,583.6 2705.0,590.8 2733.0,592.0 2761.0,595.2 2789.0,598.4 2817.0,601.1 2845.0,598.7 2873.0,594.0 2901.0,585.1 2929.0,580.8 2957.0,586.3 2985.0,591.5 3013.0,593.9 3041.0,596.7 3069.0,596.7 3097.0,583.6 3125.0,583.5 3153.0,590.6 3181.0,593.1" fill="none" stroke="#cc4a72" stroke-width="2.4" stroke-linejoin="round"/>
<text x="1859" y="469" class="lbl">59800.0</text>
<path d="M1955,461 H1969 M1963.5,456 L1969,461 L1963.5,466" fill="none" stroke="#555" stroke-width="2"/>
<path d="M347,1122.5 H333 M338.5,1117.5 L333,1122.5 L338.5,1127.5" fill="none" stroke="#555" stroke-width="2"/>
<text x="353" y="1131" class="lbl">54689.8</text>
<path d="M3217,575.5 H3360 V614.5 H3217 V603 L3210,595 L3217,587 Z" fill="#fff" stroke="#6eb47a" stroke-width="2.5"/>
<text x="3283.5" y="603.5" class="ax" fill="#5dab70">58784.5</text>
<text x="8" y="1233" class="pl">VOLUME(5,10)</text>
<rect x="34" y="1342.3" width="22" height="87.2" fill="#de6e66"/>
<rect x="62" y="1359.8" width="22" height="69.7" fill="#de6e66"/>
<rect x="90" y="1386.2" width="22" height="43.3" fill="#de6e66"/>
<rect x="118" y="1382.2" width="22" height="47.3" fill="#de6e66"/>
<rect x="146" y="1412.4" width="22" height="17.1" fill="#6eb47a"/>
<rect x="174" y="1408.2" width="22" height="21.3" fill="#6eb47a"/>
<rect x="202" y="1398.2" width="22" height="31.3" fill="#6eb47a"/>
<rect x="230" y="1404.1" width="22" height="25.4" fill="#de6e66"/>
<rect x="258" y="1410.1" width="22" height="19.4" fill="#de6e66"/>
<rect x="286" y="1392.2" width="22" height="37.3" fill="#de6e66"/>
<rect x="314" y="1390.3" width="22" height="39.2" fill="#6eb47a"/>
<rect x="342" y="1399.4" width="22" height="30.1" fill="#de6e66"/>
<rect x="370" y="1416.3" width="22" height="13.2" fill="#6eb47a"/>
<rect x="398" y="1404.0" width="22" height="25.5" fill="#6eb47a"/>
<rect x="426" y="1403.0" width="22" height="26.5" fill="#6eb47a"/>
<rect x="454" y="1386.0" width="22" height="43.5" fill="#de6e66"/>
<rect x="482" y="1392.2" width="22" height="37.3" fill="#de6e66"/>
<rect x="510" y="1390.3" width="22" height="39.2" fill="#6eb47a"/>
<rect x="538" y="1404.0" width="22" height="25.5" fill="#6eb47a"/>
<rect x="566" y="1386.0" width="22" height="43.5" fill="#de6e66"/>
<rect x="594" y="1390.3" width="22" height="39.2" fill="#de6e66"/>
<rect x="622" y="1384.1" width="22" height="45.4" fill="#6eb47a"/>
<rect x="650" y="1362.0" width="22" height="67.5" fill="#6eb47a"/>
<rect x="678" y="1328.2" width="22" height="101.3" fill="#6eb47a"/>
<rect x="706" y="1318.0" width="22" height="111.5" fill="#6eb47a"/>
<rect x="734" y="1364.2" width="22" height="65.3" fill="#6eb47a"/>
<rect x="762" y="1384.1" width="22" height="45.4" fill="#de6e66"/>
<rect x="790" y="1386.0" width="22" height="43.5" fill="#6eb47a"/>
<rect x="818" y="1394.0" width="22" height="35.5" fill="#de6e66"/>
<rect x="846" y="1390.3" width="22" height="39.2" fill="#6eb47a"/>
<rect x="874" y="1366.1" width="22" height="63.4" fill="#de6e66"/>
<rect x="902" y="1381.9" width="22" height="47.6" fill="#de6e66"/>
<rect x="930" y="1388.1" width="22" height="41.4" fill="#6eb47a"/>
<rect x="958" y="1406.1" width="22" height="23.4" fill="#de6e66"/>
<rect x="986" y="1412.0" width="22" height="17.5" fill="#de6e66"/>
<rect x="1014" y="1401.8" width="22" height="27.7" fill="#de6e66"/>
<rect x="1042" y="1418.3" width="22" height="11.2" fill="#6eb47a"/>
<rect x="1070" y="1394.0" width="22" height="35.5" fill="#6eb47a"/>
<rect x="1098" y="1404.0" width="22" height="25.5" fill="#de6e66"/>
<rect x="1126" y="1386.0" width="22" height="43.5" fill="#de6e66"/>
<rect x="1154" y="1378.2" width="22" height="51.3" fill="#de6e66"/>
<rect x="1182" y="1390.3" width="22" height="39.2" fill="#de6e66"/>
<rect x="1210" y="1380.4" width="22" height="49.1" fill="#de6e66"/>
<rect x="1238" y="1368.0" width="22" height="61.5" fill="#6eb47a"/>
<rect x="1266" y="1381.9" width="22" height="47.6" fill="#6eb47a"/>
<rect x="1294" y="1370.1" width="22" height="59.4" fill="#6eb47a"/>
<rect x="1322" y="1354.0" width="22" height="75.5" fill="#6eb47a"/>
<rect x="1350" y="1376.0" width="22" height="53.5" fill="#de6e66"/>
<rect x="1378" y="1358.0" width="22" height="71.5" fill="#6eb47a"/>
<rect x="1406" y="1370.1" width="22" height="59.4" fill="#de6e66"/>
<rect x="1434" y="1398.1" width="22" height="31.4" fill="#6eb47a"/>
<rect x="1462" y="1249.9" width="22" height="179.6" fill="#de6e66"/>
<rect x="1490" y="1349.9" width="22" height="79.6" fill="#de6e66"/>
<rect x="1518" y="1388.1" width="22" height="41.4" fill="#de6e66"/>
<rect x="1546" y="1404.0" width="22" height="25.5" fill="#de6e66"/>
<rect x="1574" y="1413.9" width="22" height="15.6" fill="#6eb47a"/>
<rect x="1602" y="1413.9" width="22" height="15.6" fill="#de6e66"/>
<rect x="1630" y="1412.0" width="22" height="17.5" fill="#6eb47a"/>
<rect x="1658" y="1413.9" width="22" height="15.6" fill="#6eb47a"/>
<rect x="1686" y="1408.0" width="22" height="21.5" fill="#de6e66"/>
<rect x="1714" y="1422.0" width="22" height="7.5" fill="#6eb47a"/>
<rect x="1742" y="1412.0" width="22" height="17.5" fill="#de6e66"/>
<rect x="1770" y="1406.1" width="22" height="23.4" fill="#6eb47a"/>
<rect x="1798" y="1370.1" width="22" height="59.4" fill="#6eb47a"/>
<rect x="1826" y="1378.2" width="22" height="51.3" fill="#de6e66"/>
<rect x="1854" y="1362.0" width="22" height="67.5" fill="#de6e66"/>
<rect x="1882" y="1359.9" width="22" height="69.6" fill="#de6e66"/>
<rect x="1910" y="1370.1" width="22" height="59.4" fill="#6eb47a"/>
<rect x="1938" y="1390.0" width="22" height="39.5" fill="#de6e66"/>
<rect x="1966" y="1340.0" width="22" height="89.5" fill="#6eb47a"/>
<rect x="1994" y="1304.0" width="22" height="125.5" fill="#de6e66"/>
<rect x="2022" y="1312.0" width="22" height="117.5" fill="#de6e66"/>
<rect x="2050" y="1406.1" width="22" height="23.4" fill="#de6e66"/>
<rect x="2078" y="1378.2" width="22" height="51.3" fill="#de6e66"/>
<rect x="2106" y="1408.0" width="22" height="21.5" fill="#6eb47a"/>
<rect x="2134" y="1408.0" width="22" height="21.5" fill="#6eb47a"/>
<rect x="2162" y="1400.0" width="22" height="29.5" fill="#6eb47a"/>
<rect x="2190" y="1404.0" width="22" height="25.5" fill="#6eb47a"/>
<rect x="2218" y="1380.0" width="22" height="49.5" fill="#6eb47a"/>
<rect x="2246" y="1381.9" width="22" height="47.6" fill="#de6e66"/>
<rect x="2274" y="1406.1" width="22" height="23.4" fill="#6eb47a"/>
<rect x="2302" y="1406.1" width="22" height="23.4" fill="#6eb47a"/>
<rect x="2330" y="1388.1" width="22" height="41.4" fill="#de6e66"/>
<rect x="2358" y="1400.0" width="22" height="29.5" fill="#6eb47a"/>
<rect x="2386" y="1418.0" width="22" height="11.5" fill="#6eb47a"/>
<rect x="2414" y="1412.0" width="22" height="17.5" fill="#de6e66"/>
<rect x="2442" y="1408.0" width="22" height="21.5" fill="#6eb47a"/>
<rect x="2470" y="1374.2" width="22" height="55.3" fill="#6eb47a"/>
<rect x="2498" y="1374.2" width="22" height="55.3" fill="#de6e66"/>
<rect x="2526" y="1380.0" width="22" height="49.5" fill="#de6e66"/>
<rect x="2554" y="1372.0" width="22" height="57.5" fill="#6eb47a"/>
<rect x="2582" y="1363.9" width="22" height="65.6" fill="#de6e66"/>
<rect x="2610" y="1349.9" width="22" height="79.6" fill="#de6e66"/>
<rect x="2638" y="1388.1" width="22" height="41.4" fill="#de6e66"/>
<rect x="2666" y="1384.1" width="22" height="45.4" fill="#6eb47a"/>
<rect x="2694" y="1352.1" width="22" height="77.4" fill="#6eb47a"/>
<rect x="2722" y="1404.0" width="22" height="25.5" fill="#de6e66"/>
<rect x="2750" y="1392.1" width="22" height="37.4" fill="#de6e66"/>
<rect x="2778" y="1382.2" width="22" height="47.3" fill="#de6e66"/>
<rect x="2806" y="1402.2" width="22" height="27.3" fill="#6eb47a"/>
<rect x="2834" y="1398.0" width="22" height="31.5" fill="#6eb47a"/>
<rect x="2862" y="1384.1" width="22" height="45.4" fill="#6eb47a"/>
<rect x="2890" y="1400.0" width="22" height="29.5" fill="#de6e66"/>
<rect x="2918" y="1400.0" width="22" height="29.5" fill="#de6e66"/>
<rect x="2946" y="1405.9" width="22" height="23.6" fill="#de6e66"/>
<rect x="2974" y="1372.0" width="22" height="57.5" fill="#6eb47a"/>
<rect x="3002" y="1411.9" width="22" height="17.6" fill="#6eb47a"/>
<rect x="3030" y="1416.1" width="22" height="13.4" fill="#de6e66"/>
<rect x="3058" y="1420.1" width="22" height="9.4" fill="#de6e66"/>
<rect x="3086" y="1420.1" width="22" height="9.4" fill="#6eb47a"/>
<rect x="3114" y="1418.1" width="22" height="11.4" fill="#de6e66"/>
<rect x="3142" y="1372.0" width="22" height="57.5" fill="#de6e66"/>
<rect x="3170" y="1418.1" width="22" height="11.4" fill="#6eb47a"/>
<polyline points="45.0,1358.8 73.0,1358.8 101.0,1358.8 129.0,1358.8 157.0,1361.1 185.0,1364.9 213.0,1377.1 241.0,1384.7 269.0,1388.4 297.0,1389.6 325.0,1394.4 353.0,1398.3 381.0,1401.3 409.0,1403.5 437.0,1402.6 465.0,1400.4 493.0,1399.8 521.0,1398.4 549.0,1397.8 577.0,1397.2 605.0,1397.2 633.0,1395.6 661.0,1390.2 689.0,1382.6 717.0,1374.1 745.0,1371.9 773.0,1371.1 801.0,1370.7 829.0,1369.7 857.0,1370.1 885.0,1367.7 913.0,1367.5 941.0,1370.1 969.0,1377.9 997.0,1387.3 1025.0,1391.0 1053.0,1394.5 1081.0,1395.3 1109.0,1396.3 1137.0,1395.8 1165.0,1397.0 1193.0,1397.9 1221.0,1397.1 1249.0,1393.3 1277.0,1390.3 1305.0,1387.1 1333.0,1380.7 1361.0,1378.9 1389.0,1374.3 1417.0,1372.7 1445.0,1374.7 1473.0,1360.7 1501.0,1357.6 1529.0,1359.6 1557.0,1361.8 1585.0,1366.2 1613.0,1372.2 1641.0,1375.8 1669.0,1381.4 1697.0,1385.2 1725.0,1387.6 1753.0,1403.8 1781.0,1409.4 1809.0,1407.6 1837.0,1405.0 1865.0,1399.8 1893.0,1394.4 1921.0,1390.2 1949.0,1387.8 1977.0,1381.0 2005.0,1369.2 2033.0,1359.2 2061.0,1359.2 2089.0,1360.0 2117.0,1363.0 2145.0,1367.6 2173.0,1371.6 2201.0,1375.0 2229.0,1374.0 2257.0,1378.2 2285.0,1388.4 2313.0,1397.8 2341.0,1396.0 2369.0,1398.2 2397.0,1399.2 2425.0,1399.6 2453.0,1400.4 2481.0,1397.4 2509.0,1396.9 2537.0,1396.7 2565.0,1393.3 2593.0,1389.0 2621.0,1385.2 2649.0,1384.0 2677.0,1380.6 2705.0,1374.7 2733.0,1374.2 2761.0,1376.0 2789.0,1376.8 2817.0,1379.1 2845.0,1381.7 2873.0,1383.7 2901.0,1388.7 2929.0,1389.9 2957.0,1392.1 2985.0,1394.0 3013.0,1394.8 3041.0,1397.2 3069.0,1401.0 3097.0,1402.8 3125.0,1404.8 3153.0,1403.6 3181.0,1405.4" fill="none" stroke="#e9b540" stroke-width="2.2"/>
<polyline points="45.0,1341.3 73.0,1356.4 101.0,1368.6 129.0,1370.5 157.0,1376.6 185.0,1389.8 213.0,1397.4 241.0,1401.0 269.0,1406.6 297.0,1402.6 325.0,1399.0 353.0,1399.2 381.0,1401.7 409.0,1400.4 437.0,1402.6 465.0,1401.7 493.0,1400.3 521.0,1395.1 549.0,1395.1 577.0,1391.7 605.0,1392.6 633.0,1390.9 661.0,1385.3 689.0,1370.1 717.0,1356.5 745.0,1351.3 773.0,1351.3 801.0,1356.1 829.0,1369.3 857.0,1383.7 885.0,1384.1 913.0,1383.7 941.0,1384.1 969.0,1386.5 997.0,1390.8 1025.0,1398.0 1053.0,1405.3 1081.0,1406.4 1109.0,1406.0 1137.0,1400.8 1165.0,1396.1 1193.0,1390.5 1221.0,1387.8 1249.0,1380.6 1277.0,1379.8 1305.0,1378.1 1333.0,1370.9 1361.0,1370.0 1389.0,1368.0 1417.0,1365.6 1445.0,1371.2 1473.0,1350.4 1501.0,1345.2 1529.0,1351.2 1557.0,1358.0 1585.0,1361.2 1613.0,1394.0 1641.0,1406.4 1669.0,1411.5 1697.0,1412.3 1725.0,1414.0 1753.0,1413.6 1781.0,1412.4 1809.0,1403.6 1837.0,1397.7 1865.0,1385.7 1893.0,1375.3 1921.0,1368.1 1949.0,1372.0 1977.0,1364.4 2005.0,1352.8 2033.0,1343.2 2061.0,1350.4 2089.0,1348.1 2117.0,1361.7 2145.0,1382.5 2173.0,1400.1 2201.0,1399.6 2229.0,1400.0 2257.0,1394.8 2285.0,1394.4 2313.0,1395.6 2341.0,1392.4 2369.0,1396.4 2397.0,1403.7 2425.0,1404.8 2453.0,1405.2 2481.0,1402.4 2509.0,1397.3 2537.0,1389.7 2565.0,1381.7 2593.0,1372.9 2621.0,1368.0 2649.0,1370.8 2677.0,1371.6 2705.0,1367.6 2733.0,1375.6 2761.0,1384.1 2789.0,1382.9 2817.0,1386.5 2845.0,1395.7 2873.0,1391.7 2901.0,1393.3 2929.0,1396.9 2957.0,1397.6 2985.0,1392.4 3013.0,1398.0 3041.0,1401.2 3069.0,1405.2 3097.0,1408.0 3125.0,1417.3 3153.0,1409.3 3181.0,1409.7" fill="none" stroke="#cc4a72" stroke-width="2.2"/>
<path d="M3217,1398.5 H3360 V1437 H3217 V1426 L3210,1418.3 L3217,1410.5 Z" fill="#fff" stroke="#6eb47a" stroke-width="2.5"/>
<text x="3283.5" y="1427" class="ax" fill="#5dab70">109.51</text>
<text x="8" y="1461" class="pl">MACD(12,26,9)</text>
<rect x="34" y="1580.5" width="22" height="17.4" fill="#de6e66"/>
<rect x="62" y="1580.5" width="22" height="21.0" fill="#de6e66"/>
<rect x="90" y="1580.5" width="22" height="29.2" fill="#de6e66"/>
<rect x="118" y="1580.5" width="22" height="39.2" fill="#de6e66"/>
<rect x="146" y="1580.5" width="22" height="39.2" fill="#de6e66"/>
<rect x="175" y="1581.5" width="20" height="34.3" fill="none" stroke="#de6e66" stroke-width="2"/>
<rect x="203" y="1581.5" width="20" height="22.5" fill="none" stroke="#de6e66" stroke-width="2"/>
<rect x="231" y="1581.5" width="20" height="14.8" fill="none" stroke="#de6e66" stroke-width="2"/>
<rect x="258" y="1580.5" width="22" height="19.0" fill="#de6e66"/>
<rect x="286" y="1580.5" width="22" height="35.1" fill="#de6e66"/>
<rect x="314" y="1580.5" width="22" height="45.3" fill="#de6e66"/>
<rect x="342" y="1580.5" width="22" height="55.0" fill="#de6e66"/>
<rect x="371" y="1581.5" width="20" height="50.6" fill="none" stroke="#de6e66" stroke-width="2"/>
<rect x="399" y="1581.5" width="20" height="38.2" fill="none" stroke="#de6e66" stroke-width="2"/>
<rect x="427" y="1581.5" width="20" height="24.3" fill="none" stroke="#de6e66" stroke-width="2"/>
<rect x="455" y="1581.5" width="20" height="22.1" fill="none" stroke="#de6e66" stroke-width="2"/>
<rect x="482" y="1580.5" width="22" height="27.2" fill="#de6e66"/>
<rect x="511" y="1581.5" width="20" height="19.9" fill="none" stroke="#de6e66" stroke-width="2"/>
<rect x="539" y="1581.5" width="20" height="16.5" fill="none" stroke="#de6e66" stroke-width="2"/>
<rect x="567" y="1581.5" width="20" height="16.5" fill="none" stroke="#de6e66" stroke-width="2"/>
<rect x="594" y="1580.5" width="22" height="20.4" fill="#de6e66"/>
<rect x="623" y="1581.5" width="20" height="11.2" fill="none" stroke="#de6e66" stroke-width="2"/>
<rect x="651" y="1579.2" width="20" height="0.5" fill="none" stroke="#6eb47a" stroke-width="2"/>
<rect x="679" y="1545.7" width="20" height="33.8" fill="none" stroke="#6eb47a" stroke-width="2"/>
<rect x="707" y="1509.6" width="20" height="69.9" fill="none" stroke="#6eb47a" stroke-width="2"/>
<rect x="735" y="1489.8" width="20" height="89.7" fill="none" stroke="#6eb47a" stroke-width="2"/>
<rect x="763" y="1485.4" width="20" height="94.1" fill="none" stroke="#6eb47a" stroke-width="2"/>
<rect x="791" y="1483.5" width="20" height="96.0" fill="none" stroke="#6eb47a" stroke-width="2"/>
<rect x="818" y="1490.0" width="22" height="90.5" fill="#6eb47a"/>
<rect x="846" y="1495.9" width="22" height="84.6" fill="#6eb47a"/>
<rect x="874" y="1513.9" width="22" height="66.6" fill="#6eb47a"/>
<rect x="902" y="1531.9" width="22" height="48.6" fill="#6eb47a"/>
<rect x="930" y="1540.0" width="22" height="40.5" fill="#6eb47a"/>
<rect x="958" y="1551.8" width="22" height="28.7" fill="#6eb47a"/>
<rect x="986" y="1563.9" width="22" height="16.6" fill="#6eb47a"/>
<rect x="1014" y="1580.5" width="22" height="4.8" fill="#de6e66"/>
<rect x="1042" y="1580.5" width="22" height="12.9" fill="#de6e66"/>
<rect x="1070" y="1580.5" width="22" height="12.9" fill="#de6e66"/>
<rect x="1098" y="1580.5" width="22" height="17.0" fill="#de6e66"/>
<rect x="1126" y="1580.5" width="22" height="23.2" fill="#de6e66"/>
<rect x="1154" y="1580.5" width="22" height="29.1" fill="#de6e66"/>
<rect x="1182" y="1580.5" width="22" height="32.8" fill="#de6e66"/>
<rect x="1210" y="1580.5" width="22" height="39.0" fill="#de6e66"/>
<rect x="1239" y="1581.5" width="20" height="32.3" fill="none" stroke="#de6e66" stroke-width="2"/>
<rect x="1267" y="1581.5" width="20" height="26.8" fill="none" stroke="#de6e66" stroke-width="2"/>
<rect x="1295" y="1581.5" width="20" height="14.6" fill="none" stroke="#de6e66" stroke-width="2"/>
<rect x="1323" y="1581.5" width="20" height="6.6" fill="none" stroke="#de6e66" stroke-width="2"/>
<rect x="1351" y="1581.5" width="20" height="4.4" fill="none" stroke="#de6e66" stroke-width="2"/>
<rect x="1379" y="1567.4" width="20" height="12.1" fill="none" stroke="#6eb47a" stroke-width="2"/>
<rect x="1407" y="1557.5" width="20" height="22.0" fill="none" stroke="#6eb47a" stroke-width="2"/>
<rect x="1435" y="1545.7" width="20" height="33.8" fill="none" stroke="#6eb47a" stroke-width="2"/>
<rect x="1463" y="1543.5" width="20" height="36.0" fill="none" stroke="#6eb47a" stroke-width="2"/>
<rect x="1490" y="1549.9" width="22" height="30.6" fill="#6eb47a"/>
<rect x="1518" y="1556.1" width="22" height="24.4" fill="#6eb47a"/>
<rect x="1546" y="1570.1" width="22" height="10.4" fill="#6eb47a"/>
<rect x="1574" y="1576.0" width="22" height="4.5" fill="#6eb47a"/>
<rect x="1602" y="1580.5" width="22" height="4.8" fill="#de6e66"/>
<rect x="1630" y="1580.5" width="22" height="7.0" fill="#de6e66"/>
<rect x="1659" y="1581.5" width="20" height="2.5" fill="none" stroke="#de6e66" stroke-width="2"/>
<rect x="1686" y="1580.5" width="22" height="12.9" fill="#de6e66"/>
<rect x="1714" y="1580.5" width="22" height="17.0" fill="#de6e66"/>
<rect x="1742" y="1580.5" width="22" height="21.0" fill="#de6e66"/>
<rect x="1770" y="1580.5" width="22" height="22.9" fill="#de6e66"/>
<rect x="1799" y="1581.5" width="20" height="16.5" fill="none" stroke="#de6e66" stroke-width="2"/>
<rect x="1827" y="1581.5" width="20" height="14.3" fill="none" stroke="#de6e66" stroke-width="2"/>
<rect x="1854" y="1580.5" width="22" height="22.9" fill="#de6e66"/>
<rect x="1882" y="1580.5" width="22" height="26.9" fill="#de6e66"/>
<rect x="1911" y="1581.5" width="20" height="24.3" fill="none" stroke="#de6e66" stroke-width="2"/>
<rect x="1939" y="1581.5" width="20" height="22.1" fill="none" stroke="#de6e66" stroke-width="2"/>
<rect x="1967" y="1581.5" width="20" height="1.9" fill="none" stroke="#de6e66" stroke-width="2"/>
<rect x="1994" y="1580.5" width="22" height="22.5" fill="#de6e66"/>
<rect x="2022" y="1580.5" width="22" height="38.7" fill="#de6e66"/>
<rect x="2050" y="1580.5" width="22" height="46.8" fill="#de6e66"/>
<rect x="2078" y="1580.5" width="22" height="54.8" fill="#de6e66"/>
<rect x="2107" y="1581.5" width="20" height="48.5" fill="none" stroke="#de6e66" stroke-width="2"/>
<rect x="2135" y="1581.5" width="20" height="42.6" fill="none" stroke="#de6e66" stroke-width="2"/>
<rect x="2163" y="1581.5" width="20" height="26.4" fill="none" stroke="#de6e66" stroke-width="2"/>
<rect x="2191" y="1581.5" width="20" height="16.5" fill="none" stroke="#de6e66" stroke-width="2"/>
<rect x="2219" y="1575.5" width="20" height="4.0" fill="none" stroke="#6eb47a" stroke-width="2"/>
<rect x="2247" y="1569.6" width="20" height="9.9" fill="none" stroke="#6eb47a" stroke-width="2"/>
<rect x="2275" y="1559.3" width="20" height="20.2" fill="none" stroke="#6eb47a" stroke-width="2"/>
<rect x="2303" y="1556.5" width="20" height="23.0" fill="none" stroke="#6eb47a" stroke-width="2"/>
<rect x="2330" y="1566.1" width="22" height="14.4" fill="#6eb47a"/>
<rect x="2358" y="1568.0" width="22" height="12.5" fill="#6eb47a"/>
<rect x="2386" y="1570.1" width="22" height="10.4" fill="#6eb47a"/>
<rect x="2414" y="1578.2" width="22" height="2.3" fill="#6eb47a"/>
<rect x="2442" y="1580.5" width="22" height="3.0" fill="#de6e66"/>
<rect x="2471" y="1575.5" width="20" height="4.0" fill="none" stroke="#6eb47a" stroke-width="2"/>
<rect x="2499" y="1571.4" width="20" height="8.1" fill="none" stroke="#6eb47a" stroke-width="2"/>
<rect x="2526" y="1570.4" width="22" height="10.1" fill="#6eb47a"/>
<rect x="2554" y="1570.4" width="22" height="10.1" fill="#6eb47a"/>
<rect x="2582" y="1576.0" width="22" height="4.5" fill="#6eb47a"/>
<rect x="2610" y="1580.5" width="22" height="7.0" fill="#de6e66"/>
<rect x="2638" y="1580.5" width="22" height="11.7" fill="#de6e66"/>
<rect x="2666" y="1580.5" width="22" height="12.9" fill="#de6e66"/>
<rect x="2694" y="1580.5" width="22" height="12.9" fill="#de6e66"/>
<rect x="2722" y="1580.5" width="22" height="13.1" fill="#de6e66"/>
<rect x="2750" y="1580.5" width="22" height="15.0" fill="#de6e66"/>
<rect x="2778" y="1580.5" width="22" height="19.0" fill="#de6e66"/>
<rect x="2807" y="1581.5" width="20" height="14.5" fill="none" stroke="#de6e66" stroke-width="2"/>
<rect x="2835" y="1581.5" width="20" height="8.6" fill="none" stroke="#de6e66" stroke-width="2"/>
<rect x="2863" y="1581.5" width="20" height="2.6" fill="none" stroke="#de6e66" stroke-width="2"/>
<rect x="2890" y="1580.5" width="22" height="2.9" fill="#de6e66"/>
<rect x="2918" y="1580.5" width="22" height="5.1" fill="#de6e66"/>
<rect x="2946" y="1580.5" width="22" height="11.1" fill="#de6e66"/>
<rect x="2975" y="1581.5" width="20" height="8.8" fill="none" stroke="#de6e66" stroke-width="2"/>
<rect x="3003" y="1581.5" width="20" height="4.9" fill="none" stroke="#de6e66" stroke-width="2"/>
<rect x="3031" y="1581.5" width="20" height="2.9" fill="none" stroke="#de6e66" stroke-width="2"/>
<rect x="3058" y="1580.5" width="22" height="5.1" fill="#de6e66"/>
<rect x="3086" y="1578.2" width="22" height="2.3" fill="#6eb47a"/>
<rect x="3114" y="1580.5" width="22" height="3.1" fill="#de6e66"/>
<rect x="3142" y="1580.5" width="22" height="7.4" fill="#de6e66"/>
<rect x="3171" y="1581.5" width="20" height="2.9" fill="none" stroke="#de6e66" stroke-width="2"/>
<polyline points="45.0,1513.2 73.0,1515.7 101.0,1519.4 129.0,1524.2 157.0,1529.2 185.0,1534.0 213.0,1537.1 241.0,1539.3 269.0,1541.7 297.0,1546.1 325.0,1551.6 353.0,1558.3 381.0,1564.9 409.0,1570.0 437.0,1573.3 465.0,1576.4 493.0,1579.5 521.0,1582.2 549.0,1584.5 577.0,1586.5 605.0,1589.0 633.0,1590.7 661.0,1590.5 689.0,1586.0 717.0,1577.2 745.0,1565.9 773.0,1554.0 801.0,1542.0 829.0,1530.8 857.0,1520.5 885.0,1512.3 913.0,1506.4 941.0,1501.6 969.0,1498.2 997.0,1496.3 1025.0,1496.8 1053.0,1498.1 1081.0,1499.7 1109.0,1501.8 1137.0,1504.4 1165.0,1507.8 1193.0,1511.9 1221.0,1516.6 1249.0,1520.8 1277.0,1524.3 1305.0,1526.3 1333.0,1527.3 1361.0,1528.1 1389.0,1526.7 1417.0,1524.0 1445.0,1519.9 1473.0,1515.4 1501.0,1511.8 1529.0,1509.0 1557.0,1507.9 1585.0,1507.7 1613.0,1508.2 1641.0,1508.9 1669.0,1509.4 1697.0,1510.8 1725.0,1512.9 1753.0,1515.4 1781.0,1518.0 1809.0,1520.2 1837.0,1522.3 1865.0,1525.0 1893.0,1528.1 1921.0,1531.3 1949.0,1534.4 1977.0,1534.9 2005.0,1537.8 2033.0,1542.4 2061.0,1548.2 2089.0,1554.9 2117.0,1561.3 2145.0,1566.8 2173.0,1570.5 2201.0,1572.8 2229.0,1572.3 2257.0,1571.0 2285.0,1568.5 2313.0,1565.3 2341.0,1563.8 2369.0,1562.5 2397.0,1561.5 2425.0,1561.4 2453.0,1561.7 2481.0,1561.1 2509.0,1560.2 2537.0,1559.2 2565.0,1558.3 2593.0,1558.2 2621.0,1558.9 2649.0,1560.2 2677.0,1561.6 2705.0,1563.0 2733.0,1564.5 2761.0,1566.3 2789.0,1568.4 2817.0,1570.4 2845.0,1571.6 2873.0,1572.1 2901.0,1572.3 2929.0,1572.8 2957.0,1574.1 2985.0,1575.3 3013.0,1575.9 3041.0,1576.3 3069.0,1576.7 3097.0,1576.6 3125.0,1576.9 3153.0,1577.5 3181.0,1578.1" fill="none" stroke="#e9b540" stroke-width="2.2"/>
<polyline points="45.0,1521.7 73.0,1526.0 101.0,1533.9 129.0,1543.8 157.0,1549.2 185.0,1553.1 213.0,1549.5 241.0,1548.2 269.0,1551.3 297.0,1563.6 325.0,1573.4 353.0,1585.4 381.0,1591.3 409.0,1590.0 437.0,1586.8 465.0,1588.6 493.0,1592.0 521.0,1593.1 549.0,1593.8 577.0,1594.7 605.0,1598.7 633.0,1597.4 661.0,1589.7 689.0,1568.3 717.0,1541.9 745.0,1520.5 773.0,1506.4 801.0,1494.0 829.0,1486.2 857.0,1479.1 885.0,1479.8 913.0,1482.7 941.0,1482.5 969.0,1484.5 997.0,1488.9 1025.0,1498.6 1053.0,1503.5 1081.0,1506.0 1109.0,1510.0 1137.0,1515.2 1165.0,1521.3 1193.0,1528.1 1221.0,1535.7 1249.0,1537.5 1277.0,1538.2 1305.0,1534.2 1333.0,1531.2 1361.0,1531.6 1389.0,1520.8 1417.0,1513.2 1445.0,1503.3 1473.0,1497.7 1501.0,1497.1 1529.0,1497.8 1557.0,1503.6 1585.0,1506.9 1613.0,1510.4 1641.0,1511.8 1669.0,1511.1 1697.0,1516.7 1725.0,1520.9 1753.0,1525.4 1781.0,1528.8 1809.0,1528.8 1837.0,1530.7 1865.0,1535.8 1893.0,1540.7 1921.0,1543.8 1949.0,1546.7 1977.0,1537.3 2005.0,1549.0 2033.0,1561.1 2061.0,1571.1 2089.0,1582.0 2117.0,1586.9 2145.0,1589.0 2173.0,1585.2 2201.0,1581.8 2229.0,1570.6 2257.0,1565.4 2285.0,1558.5 2313.0,1552.8 2341.0,1557.9 2369.0,1557.3 2397.0,1557.1 2425.0,1561.3 2453.0,1563.0 2481.0,1558.6 2509.0,1556.4 2537.0,1555.4 2565.0,1554.9 2593.0,1557.7 2621.0,1561.6 2649.0,1565.4 2677.0,1567.3 2705.0,1568.7 2733.0,1570.1 2761.0,1573.6 2789.0,1577.0 2817.0,1578.2 2845.0,1576.5 2873.0,1574.3 2901.0,1572.9 2929.0,1574.6 2957.0,1579.3 2985.0,1580.1 3013.0,1578.5 3041.0,1577.7 3069.0,1578.6 3097.0,1576.2 3125.0,1577.8 3153.0,1580.2 3181.0,1580.4" fill="none" stroke="#cc4a72" stroke-width="2.2"/>
<rect x="540" y="1620" width="2240" height="72" fill="url(#shv)" mask="url(#shm)"/>
<rect x="1" y="349" width="3362" height="1342" fill="none" stroke="#ebb04e" stroke-width="2.5"/>
<circle cx="72" cy="1653.5" r="40" fill="#2d63e6"/>
<circle cx="72" cy="1654" r="22" fill="none" stroke="#fff" stroke-width="4"/>
<circle cx="72" cy="1643" r="3" fill="#fff"/>
<line x1="72" y1="1652" x2="72" y2="1667" stroke="#fff" stroke-width="4" stroke-linecap="round"/>
<rect x="0" y="1693" width="3358" height="33" fill="url(#gb)"/>
<line x1="0" y1="1693.5" x2="3358" y2="1693.5" stroke="#cfcfcf" stroke-width="1.5"/>
<line x1="73" y1="1694" x2="73" y2="1700" stroke="#bcbcbc" stroke-width="2"/>
<text x="73" y="1721" class="tt">18:00</text>
<line x1="241" y1="1694" x2="241" y2="1700" stroke="#bcbcbc" stroke-width="2"/>
<text x="241" y="1721" class="td">3月29日</text>
<line x1="409" y1="1694" x2="409" y2="1700" stroke="#bcbcbc" stroke-width="2"/>
<text x="409" y="1721" class="tt">6:00</text>
<line x1="577" y1="1694" x2="577" y2="1700" stroke="#bcbcbc" stroke-width="2"/>
<text x="577" y="1721" class="tt">12:00</text>
<line x1="745" y1="1694" x2="745" y2="1700" stroke="#bcbcbc" stroke-width="2"/>
<text x="745" y="1721" class="tt">18:00</text>
<line x1="913" y1="1694" x2="913" y2="1700" stroke="#bcbcbc" stroke-width="2"/>
<text x="913" y="1721" class="td">3月30日</text>
<line x1="1081" y1="1694" x2="1081" y2="1700" stroke="#bcbcbc" stroke-width="2"/>
<text x="1081" y="1721" class="tt">6:00</text>
<line x1="1249" y1="1694" x2="1249" y2="1700" stroke="#bcbcbc" stroke-width="2"/>
<text x="1249" y="1721" class="tt">12:00</text>
<line x1="1417" y1="1694" x2="1417" y2="1700" stroke="#bcbcbc" stroke-width="2"/>
<text x="1417" y="1721" class="tt">18:00</text>
<line x1="1585" y1="1694" x2="1585" y2="1700" stroke="#bcbcbc" stroke-width="2"/>
<text x="1585" y="1721" class="td">3月31日</text>
<line x1="1753" y1="1694" x2="1753" y2="1700" stroke="#bcbcbc" stroke-width="2"/>
<text x="1753" y="1721" class="tt">6:00</text>
<line x1="1921" y1="1694" x2="1921" y2="1700" stroke="#bcbcbc" stroke-width="2"/>
<text x="1921" y="1721" class="tt">12:00</text>
<line x1="2089" y1="1694" x2="2089" y2="1700" stroke="#bcbcbc" stroke-width="2"/>
<text x="2089" y="1721" class="tt">18:00</text>
<line x1="2257" y1="1694" x2="2257" y2="1700" stroke="#bcbcbc" stroke-width="2"/>
<text x="2257" y="1721" class="td">4月1日</text>
<line x1="2425" y1="1694" x2="2425" y2="1700" stroke="#bcbcbc" stroke-width="2"/>
<text x="2425" y="1721" class="tt">6:00</text>
<line x1="2593" y1="1694" x2="2593" y2="1700" stroke="#bcbcbc" stroke-width="2"/>
<text x="2593" y="1721" class="tt">12:00</text>
<line x1="2761" y1="1694" x2="2761" y2="1700" stroke="#bcbcbc" stroke-width="2"/>
<text x="2761" y="1721" class="tt">18:00</text>
<line x1="2929" y1="1694" x2="2929" y2="1700" stroke="#bcbcbc" stroke-width="2"/>
<text x="2929" y="1721" class="td">4月2日</text>
<line x1="3097" y1="1694" x2="3097" y2="1700" stroke="#bcbcbc" stroke-width="2"/>
<text x="3097" y="1721" class="tt">6:00</text>
<rect x="0" y="1725" width="600" height="5" fill="#000"/>
<path d="M593,1730 V1730 Q593,1725 599,1725 H2300 V1730 Z" fill="#585152"/>
<rect x="2300" y="1725" width="125" height="5" fill="url(#gd)"/>
<path d="M2424,1725 H2760 Q2766,1725 2768,1730 H2424 Z" fill="#c8754f"/>
<path d="M2766,1730 Q2768,1725 2772,1725 H3358 V1730 Z" fill="#11141d"/>

<path d="M0,1714 A12,12 0 0 0 12,1726 H0 Z" fill="#000"/>
</svg>
<div class="nav">
  <svg class="abs" style="left:0;top:0" width="200" height="84" viewBox="0 0 200 84">
    <circle cx="72" cy="22" r="11" fill="#8fb4ee"/>
    <circle cx="72" cy="49.8" r="11" fill="#4b7ef3"/>
    <circle cx="58.6" cy="36" r="11" fill="#3b6cf0" stroke="#2f5fe0" stroke-width="0.8"/>
    <circle cx="85.4" cy="36" r="11" fill="#6f9cf5" stroke="#5f8cee" stroke-width="0.8"/>
    <rect x="69.5" y="33.5" width="5" height="5" fill="#0f2a55"/>
  </svg>
  <div class="abs logo" style="left:106px;top:13px">欧易</div>
  <div class="abs nv" style="left:232px">买币</div>
  <div class="abs nv" style="left:344px">行情</div>
  <div class="abs nv" style="left:456px">交易</div>
  <div class="abs nv" style="left:607px">金融业务</div>
  <div class="abs nv" style="left:816px">学院</div>
  <div class="abs nv" style="left:927px">更多</div>
  <div class="abs newb">NEW</div>
  <div class="abs nv" style="left:2650px">资产管理</div>
  <svg class="abs" style="left:0;top:0" width="3358" height="84" viewBox="0 0 3358 84" fill="none" stroke="#e1e7f3" stroke-width="2.6" stroke-linecap="round" stroke-linejoin="round">
    <path d="M531,33 L539.5,41.5 L548,33"/>
    <path d="M740,33 L748.5,41.5 L757,33"/>
    <path d="M1071,33 L1079.5,41.5 L1088,33"/>
    <path d="M2784,32.5 L2792,40.5 L2800,32.5"/>
    <circle cx="2886" cy="26.6" r="8.8"/>
    <path d="M2876,40.5 C2882,38.5 2890,38.5 2896,40.5 C2901,41.5 2902,45 2900,49 C2899,51.5 2897,52.5 2894,52.5 H2878 C2875,52.5 2873,51.5 2872,49 C2870,45 2871,41.5 2876,40.5 Z"/>
    <line x1="2963" y1="20.5" x2="2963" y2="51.5" stroke="#40577f" stroke-width="1.6"/>
    <rect x="3016" y="17.5" width="31.5" height="35.5" rx="4.5"/>
    <path d="M3032,22 V41 M3024.8,34.4 L3032,41.6 L3039.2,34.4"/>
    <line x1="3024.5" y1="46.5" x2="3039.8" y2="46.5" stroke-width="3" stroke-linecap="butt"/>
    <path d="M3103,46.5 C3101.3,46.5 3100.8,44.6 3102,43.2 C3104.8,40 3105.6,36 3105.6,30 C3105.6,22 3111,17.5 3118,17.5 C3125,17.5 3130.4,22 3130.4,30 C3130.4,36 3131.2,40 3134,43.2 C3135.2,44.6 3134.7,46.5 3133,46.5 Z"/>
    <path d="M3112.5,47.5 C3113,51 3115.2,53 3118,53 C3120.8,53 3123,51 3123.5,47.5"/>
    <path d="M3191,44 V31 C3191,22 3198,16.8 3206,16.8 C3214,16.8 3221,22 3221,31 V47"/>
    <rect x="3191" y="35" width="6.5" height="12" rx="1"/>
    <rect x="3214.5" y="35" width="6.5" height="12" rx="1"/>
    <path d="M3221,47 C3221,51 3219,52.5 3215,52.5 H3210"/>
    <circle cx="3293.6" cy="35" r="18.3"/>
    <ellipse cx="3293.6" cy="35" rx="7.3" ry="18.3"/>
    <line x1="3275.3" y1="35" x2="3311.9" y2="35"/>
  </svg>
</div>

<div class="ticker">
  <svg class="abs" style="left:0;top:0" width="420" height="98" viewBox="0 84 420 98">
    <circle cx="72" cy="133.6" r="20.7" fill="#ec9546"/>
    <g transform="translate(71.5 133.6) rotate(14) scale(1.02)" fill="#fff">
      <path fill-rule="evenodd" d="M-8,-8 H3 C6.5,-8 7.6,-6 7.6,-4.2 C7.6,-2.3 6.3,-1 4.9,-0.4 C7.1,0.2 8.6,1.8 8.6,4 C8.6,6.6 6.6,8 3,8 H-9 V5.8 H-6 V-5.8 H-8 Z M-2.2,-5 V-1.4 H2.2 C3.4,-1.4 3.9,-2.3 3.9,-3.2 C3.9,-4.2 3.4,-5 2.2,-5 Z M-2.2,1.5 V5 H2.8 C4.1,5 4.7,4.2 4.7,3.25 C4.7,2.3 4.1,1.5 2.8,1.5 Z"/>
      <rect x="-4.4" y="-11" width="2.2" height="3.6"/><rect x="-0.2" y="-11" width="2.2" height="3.6"/>
      <rect x="-4.4" y="7.4" width="2.2" height="3.6"/><rect x="-0.2" y="7.4" width="2.2" height="3.6"/>
    </g>
    <path d="M294,129.5 L302,137.5 L310,129.5" fill="none" stroke="#7f838d" stroke-width="2.4" stroke-linecap="round" stroke-linejoin="round"/>
    <circle cx="353.7" cy="133.8" r="15.6" fill="#e9edf8"/>
    <text x="353.7" y="143" text-anchor="middle" font-family="Liberation Serif, serif" font-style="italic" font-weight="bold" font-size="25" fill="#3a5fd9">i</text>
  </svg>
  <div class="abs pair">BTC/USDT</div>
  <div class="abs price">58,784.5</div>
  <div class="abs chg">-0.36%</div>
  <div class="abs tl" style="left:582px">美元价格</div>
  <div class="abs tv" style="left:582px">$58,773.92</div>
  <div class="abs tl" style="left:750px">24小时最低价</div>
  <div class="abs tv" style="left:750px">57,939.8</div>
  <div class="abs tl" style="left:945px">24小时最高价</div>
  <div class="abs tv" style="left:945px">59,498.7</div>
  <div class="abs tl" style="left:1139px">24小时成交量(BTC)</div>
  <div class="abs tv" style="left:1139px">9,506</div>
  <div class="abs rt" style="left:2797px">交易数据</div>
  <div class="abs rt" style="left:2993px">交易/市场信息</div>
  <svg class="abs" style="left:0;top:0" width="3358" height="98" viewBox="0 84 3358 98" fill="none" stroke="#6c707b" stroke-width="2.2" stroke-linecap="round" stroke-linejoin="round">
    <polyline points="2755,135.7 2760.2,130.7 2765.2,144.8 2772.1,121.3 2777.3,134.2 2780.9,134.2"/>
    <rect x="2953" y="120" width="23.5" height="27.5" rx="2"/>
    <polyline points="2959,131.5 2963,128 2965.2,129.8 2970.5,125.2" stroke-width="2"/>
    <line x1="2959" y1="136.4" x2="2970.6" y2="136.4" stroke-width="2"/>
    <line x1="2959" y1="140.6" x2="2970.6" y2="140.6" stroke-width="2"/>
    <line x1="3194.8" y1="121.5" x2="3194.8" y2="145" stroke="#e6e6ea" stroke-width="1.5"/>
    <path d="M3233.55,125.18 L3234.73,121.64 L3240.67,121.64 L3241.85,125.18 L3243.70,126.25 L3247.35,125.50 L3250.32,130.64 L3247.84,133.43 L3247.84,135.57 L3250.32,138.36 L3247.35,143.50 L3243.70,142.75 L3241.85,143.82 L3240.67,147.36 L3234.73,147.36 L3233.55,143.82 L3231.70,142.75 L3228.05,143.50 L3225.08,138.36 L3227.56,135.57 L3227.56,133.43 L3225.08,130.64 L3228.05,125.50 L3231.70,126.25 Z"/>
    <circle cx="3237.7" cy="134.5" r="4.6"/>
    <path d="M3283.2,128 L3289,123.2 L3289,132.8 Z" fill="#6c707b" stroke-width="1"/><path d="M3288,128 H3300 C3304.5,128 3308,131.6 3308,136 C3308,140.4 3304.5,144 3300,144 H3290"/>
  </svg>
</div>
<div class="band"></div>
<div class="abs ctitle">图表</div>
<div class="abs handle"><i></i><i></i><i></i></div>
<div class="sep1"></div>
<div class="toolbar">
  <div class="abs tb" style="left:25px">分时</div>
  <div class="abs tb" style="left:88px">5分钟</div>
  <div class="abs tb" style="left:167px">15分钟</div>
  <div class="abs tb" style="left:254px">30分钟</div>
  <div class="abs tb on" style="left:346px">1小时</div>
  <div class="abs tb" style="left:421px">2小时</div>
  <div class="abs tb" style="left:499px">4小时</div>
  <div class="abs tb" style="left:577px">6小时</div>
  <div class="abs tb" style="left:655px">12小时</div>
  <div class="abs tb" style="left:743px">1日</div>
  <div class="abs tb" style="left:793px">3日</div>
  <div class="abs tb" style="left:846px">1周</div>
  <div class="abs tb" style="left:897px">1月</div>
  <div class="abs tb" style="left:946px">1年</div>
  <div class="abs tb on ma" style="left:1054px">MA</div>
  <svg class="abs" style="left:0;top:0" width="1600" height="347" viewBox="0 0 1600 347" fill="none" stroke-linecap="round" stroke-linejoin="round">
    <path d="M1002.2,307.8 H1015.6 L1008.9,315.6 Z" fill="#444" stroke="none"/>
    <path d="M1114,307.8 H1127.4 L1120.7,315.6 Z" fill="#444" stroke="none"/>
    <path d="M1219.3,307.8 H1232.7 L1226,315.6 Z" fill="#444" stroke="none"/>
    <line x1="1039" y1="297" x2="1039" y2="327" stroke="#dedede" stroke-width="1.6"/>
    <line x1="1149" y1="297" x2="1149" y2="327" stroke="#dedede" stroke-width="1.6"/>
    <line x1="1255" y1="297" x2="1255" y2="327" stroke="#dedede" stroke-width="1.6"/>
    <g stroke="#5d7fe6" stroke-width="1.8" stroke-linecap="butt">
      <rect x="1172.2" y="302.5" width="7" height="18.8"/>
      <line x1="1175.7" y1="296.2" x2="1175.7" y2="302.5"/>
      <line x1="1175.7" y1="321.3" x2="1175.7" y2="327.7"/>
      <rect x="1184.4" y="306.9" width="7" height="10.2"/>
      <line x1="1187.9" y1="300.5" x2="1187.9" y2="306.9"/>
      <line x1="1187.9" y1="317.1" x2="1187.9" y2="323.4"/>
    </g>
    <path d="M1274,316 C1278,308 1281,304.8 1283.5,304.8 C1288,304.8 1290,314.8 1294.5,314.8 C1297.5,314.8 1300,310 1302.5,305.5" stroke="#6b84e0" stroke-width="2"/>
    <g stroke="#444" stroke-width="1.9">
      <line x1="1331" y1="314.8" x2="1346.6" y2="299.7"/>
      <circle cx="1331" cy="314.8" r="1.2" fill="#444"/>
      <circle cx="1346.6" cy="299.7" r="1.2" fill="#444"/>
      <path d="M1335.2,320.3 L1350.7,304.2 L1357,310.6 L1341.4,326.6 Z"/>
      <path d="M1338.6,317 L1341,319.4 M1341.6,313.9 L1343.2,315.5 M1344.6,310.8 L1347,313.2 M1347.6,307.7 L1349.2,309.3" stroke-width="1.4"/>
    </g>
    <g stroke="#444" stroke-width="2">
      <path d="M1388.5,304.3 H1393 L1394.5,301.6 H1405.5 L1407,304.3 H1411.5 Q1413.4,304.3 1413.4,306.2 V320.6 Q1413.4,322.5 1411.5,322.5 H1388.5 Q1386.6,322.5 1386.6,320.6 V306.2 Q1386.6,304.3 1388.5,304.3 Z"/>
      <circle cx="1400" cy="313" r="5.8"/>
      <circle cx="1409.4" cy="307.8" r="0.6" fill="#444"/>
    </g>
    <path d="M1470.30,311.80 L1470.29,312.18 L1470.27,312.56 L1470.23,312.94 L1470.16,313.31 L1470.06,313.68 L1469.90,314.03 L1469.65,314.37 L1469.25,314.66 L1468.68,314.89 L1467.97,315.06 L1467.26,315.20 L1466.69,315.34 L1466.28,315.51 L1466.00,315.72 L1465.80,315.94 L1465.63,316.18 L1465.48,316.42 L1465.34,316.66 L1465.21,316.91 L1465.07,317.15 L1464.93,317.39 L1464.78,317.63 L1464.64,317.88 L1464.51,318.12 L1464.38,318.39 L1464.29,318.68 L1464.25,319.02 L1464.31,319.46 L1464.47,320.03 L1464.71,320.71 L1464.92,321.41 L1465.00,322.02 L1464.95,322.51 L1464.78,322.89 L1464.55,323.21 L1464.29,323.48 L1464.00,323.73 L1463.69,323.95 L1463.37,324.16 L1463.05,324.36 L1462.72,324.54 L1462.38,324.71 L1462.03,324.86 L1461.67,324.99 L1461.30,325.09 L1460.92,325.13 L1460.50,325.07 L1460.05,324.88 L1459.56,324.50 L1459.06,323.97 L1458.59,323.42 L1458.18,323.00 L1457.83,322.73 L1457.51,322.59 L1457.21,322.53 L1456.92,322.50 L1456.64,322.50 L1456.36,322.50 L1456.08,322.50 L1455.80,322.50 L1455.52,322.50 L1455.24,322.50 L1454.96,322.50 L1454.68,322.50 L1454.39,322.53 L1454.09,322.59 L1453.77,322.73 L1453.42,323.00 L1453.01,323.42 L1452.54,323.97 L1452.04,324.50 L1451.55,324.88 L1451.10,325.07 L1450.68,325.13 L1450.30,325.09 L1449.93,324.99 L1449.57,324.86 L1449.22,324.71 L1448.88,324.54 L1448.55,324.36 L1448.23,324.16 L1447.91,323.95 L1447.60,323.73 L1447.31,323.48 L1447.05,323.21 L1446.82,322.89 L1446.65,322.51 L1446.60,322.02 L1446.68,321.41 L1446.89,320.71 L1447.13,320.03 L1447.29,319.46 L1447.35,319.02 L1447.31,318.68 L1447.22,318.39 L1447.09,318.12 L1446.96,317.88 L1446.82,317.63 L1446.67,317.39 L1446.53,317.15 L1446.39,316.91 L1446.26,316.66 L1446.12,316.42 L1445.97,316.18 L1445.80,315.94 L1445.60,315.72 L1445.32,315.51 L1444.91,315.34 L1444.34,315.20 L1443.63,315.06 L1442.92,314.89 L1442.35,314.66 L1441.95,314.37 L1441.70,314.03 L1441.54,313.68 L1441.44,313.31 L1441.37,312.94 L1441.33,312.56 L1441.31,312.18 L1441.30,311.80 L1441.31,311.42 L1441.33,311.04 L1441.37,310.66 L1441.44,310.29 L1441.54,309.92 L1441.70,309.57 L1441.95,309.23 L1442.35,308.94 L1442.92,308.71 L1443.63,308.54 L1444.34,308.40 L1444.91,308.26 L1445.32,308.09 L1445.60,307.88 L1445.80,307.66 L1445.97,307.42 L1446.12,307.18 L1446.26,306.94 L1446.39,306.69 L1446.53,306.45 L1446.67,306.21 L1446.82,305.97 L1446.96,305.72 L1447.09,305.48 L1447.22,305.21 L1447.31,304.92 L1447.35,304.58 L1447.29,304.14 L1447.13,303.57 L1446.89,302.89 L1446.68,302.19 L1446.60,301.58 L1446.65,301.09 L1446.82,300.71 L1447.05,300.39 L1447.31,300.12 L1447.60,299.87 L1447.91,299.65 L1448.23,299.44 L1448.55,299.24 L1448.88,299.06 L1449.22,298.89 L1449.57,298.74 L1449.93,298.61 L1450.30,298.51 L1450.68,298.47 L1451.10,298.53 L1451.55,298.72 L1452.04,299.10 L1452.54,299.63 L1453.01,300.18 L1453.42,300.60 L1453.77,300.87 L1454.09,301.01 L1454.39,301.07 L1454.68,301.10 L1454.96,301.10 L1455.24,301.10 L1455.52,301.10 L1455.80,301.10 L1456.08,301.10 L1456.36,301.10 L1456.64,301.10 L1456.92,301.10 L1457.21,301.07 L1457.51,301.01 L1457.83,300.87 L1458.18,300.60 L1458.59,300.18 L1459.06,299.63 L1459.56,299.10 L1460.05,298.72 L1460.50,298.53 L1460.92,298.47 L1461.30,298.51 L1461.67,298.61 L1462.03,298.74 L1462.38,298.89 L1462.72,299.06 L1463.05,299.24 L1463.37,299.44 L1463.69,299.65 L1464.00,299.87 L1464.29,300.12 L1464.55,300.39 L1464.78,300.71 L1464.95,301.09 L1465.00,301.58 L1464.92,302.19 L1464.71,302.89 L1464.47,303.57 L1464.31,304.14 L1464.25,304.58 L1464.29,304.92 L1464.38,305.21 L1464.51,305.48 L1464.64,305.72 L1464.78,305.97 L1464.93,306.21 L1465.07,306.45 L1465.21,306.69 L1465.34,306.94 L1465.48,307.18 L1465.63,307.42 L1465.80,307.66 L1466.00,307.88 L1466.28,308.09 L1466.69,308.26 L1467.26,308.40 L1467.97,308.54 L1468.68,308.71 L1469.25,308.94 L1469.65,309.23 L1469.90,309.57 L1470.06,309.92 L1470.16,310.29 L1470.23,310.66 L1470.27,311.04 L1470.29,311.42 Z" stroke="#444" stroke-width="2"/>
    <circle cx="1455.8" cy="311.8" r="5.2" stroke="#444" stroke-width="2"/>
    <g stroke="#444" stroke-width="2">
      <rect x="1499.5" y="299.5" width="25" height="25.5" rx="3.5"/>
      <path d="M1513.5,309.6 L1519.8,303.4 M1514.5,303.4 H1519.8 V308.7"/>
      <path d="M1510,314 L1503.8,320.2 M1503.8,314.8 V320.2 H1509.2"/>
    </g>
  </svg>
  <div class="abs seg"><span class="s1">Original</span><span class="s2">TradingView</span></div>
</div>

</body></html>
